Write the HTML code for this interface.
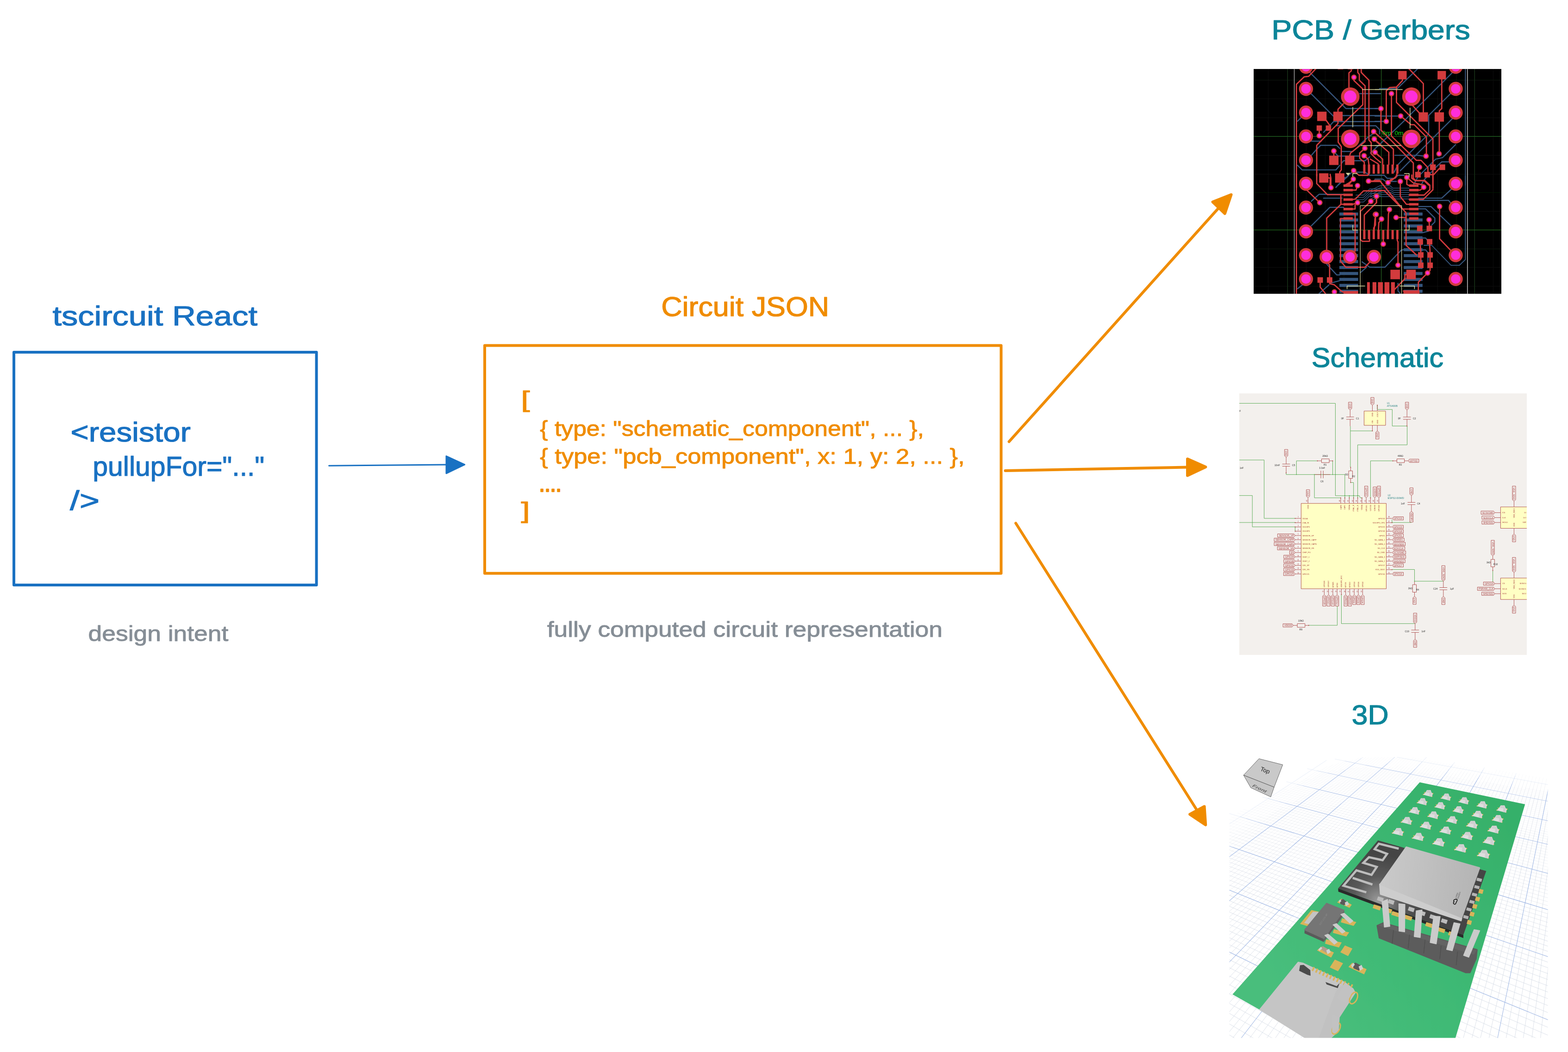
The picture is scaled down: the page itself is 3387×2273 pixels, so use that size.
<!DOCTYPE html>
<html lang="en">
<head>
<meta charset="utf-8">
<title>tscircuit React to Circuit JSON</title>
<style>
html,body{margin:0;padding:0;background:#fff;}
body{width:3387px;height:2273px;overflow:hidden;}
svg{display:block;}
svg text{font-family:"Liberation Sans",sans-serif;}
</style>
</head>
<body>
<svg width="3387" height="2273" viewBox="0 0 3387 2273">
<rect x="0" y="0" width="3387" height="2273" fill="#ffffff"/>
<rect x="30" y="761" width="653.6" height="503" fill="none" stroke="#1971c2" stroke-width="6" stroke-linejoin="round"/>
<rect x="1047" y="746.5" width="1115.5" height="492.20000000000005" fill="none" stroke="#f08c00" stroke-width="6" stroke-linejoin="round"/>
<path d="M710.6 1006.3 L964.0 1004.1" stroke="#1971c2" stroke-width="3" stroke-linecap="round" fill="none"/>
<path d="M1003.6 1003.9 L964 985.5 L964 1022.8 Z" fill="#1971c2" stroke="#1971c2" stroke-width="3" stroke-linejoin="round"/>
<path d="M2179.6 954.3 L2632.7 448.9" stroke="#f08c00" stroke-width="6" stroke-linecap="round" fill="none"/>
<path d="M2659.5 420.5 L2619.5 436.3 L2645.8 461.5 Z" fill="#f08c00" stroke="#f08c00" stroke-width="6" stroke-linejoin="round"/>
<path d="M2171.5 1016.9 L2565.0 1009.5" stroke="#f08c00" stroke-width="6" stroke-linecap="round" fill="none"/>
<path d="M2604.3 1009.0 L2565 991.5 L2565 1027.5 Z" fill="#f08c00" stroke="#f08c00" stroke-width="6" stroke-linejoin="round"/>
<path d="M2194.2 1130.5 L2585.8 1751.0" stroke="#f08c00" stroke-width="6" stroke-linecap="round" fill="none"/>
<path d="M2604.2 1782.3 L2601.5 1742.5 L2570.2 1759.5 Z" fill="#f08c00" stroke="#f08c00" stroke-width="6" stroke-linejoin="round"/>
<g id="labels">
<text x="113.4" y="703" font-size="60" fill="#1971c2" stroke="#1971c2" stroke-width="1.2" stroke-linejoin="round" text-anchor="start" textLength="442.7" lengthAdjust="spacingAndGlyphs" xml:space="preserve">tscircuit React</text>
<text x="152.5" y="954.3" font-size="60" fill="#1971c2" stroke="#1971c2" stroke-width="1.2" stroke-linejoin="round" text-anchor="start" textLength="259.5" lengthAdjust="spacingAndGlyphs" xml:space="preserve">&lt;resistor</text>
<text x="200.3" y="1028" font-size="60" fill="#1971c2" stroke="#1971c2" stroke-width="1.2" stroke-linejoin="round" text-anchor="start" textLength="371" lengthAdjust="spacingAndGlyphs" xml:space="preserve">pullupFor="..."</text>
<text x="151" y="1101.5" font-size="60" fill="#1971c2" stroke="#1971c2" stroke-width="1.2" stroke-linejoin="round" text-anchor="start" textLength="64" lengthAdjust="spacingAndGlyphs" xml:space="preserve">/&gt;</text>
<text x="190.6" y="1385" font-size="46" fill="#868e96" stroke="#868e96" stroke-width="0.9" stroke-linejoin="round" text-anchor="start" textLength="302.7" lengthAdjust="spacingAndGlyphs" xml:space="preserve">design intent</text>
<text x="1428.2" y="683" font-size="60" fill="#f08c00" stroke="#f08c00" stroke-width="1.2" stroke-linejoin="round" text-anchor="start" textLength="363" lengthAdjust="spacingAndGlyphs" xml:space="preserve">Circuit JSON</text>
<text x="1125.5" y="880" font-size="50" fill="#f08c00" stroke="#f08c00" stroke-width="1.2" stroke-linejoin="round" text-anchor="start" textLength="19" lengthAdjust="spacingAndGlyphs" xml:space="preserve">[</text>
<text x="1166.3" y="942" font-size="46" fill="#f08c00" stroke="#f08c00" stroke-width="0.9" stroke-linejoin="round" text-anchor="start" textLength="829.7" lengthAdjust="spacingAndGlyphs" xml:space="preserve">{ type: "schematic_component", ... },</text>
<text x="1166.3" y="1002" font-size="46" fill="#f08c00" stroke="#f08c00" stroke-width="0.9" stroke-linejoin="round" text-anchor="start" textLength="917.4" lengthAdjust="spacingAndGlyphs" xml:space="preserve">{ type: "pcb_component", x: 1, y: 2, ... },</text>
<text x="1164.8" y="1062" font-size="46" fill="#f08c00" stroke="#f08c00" stroke-width="2.6" stroke-linejoin="round" text-anchor="start" textLength="47.8" lengthAdjust="spacingAndGlyphs" xml:space="preserve">....</text>
<text x="1125.5" y="1120" font-size="50" fill="#f08c00" stroke="#f08c00" stroke-width="1.2" stroke-linejoin="round" text-anchor="start" textLength="19" lengthAdjust="spacingAndGlyphs" xml:space="preserve">]</text>
<text x="1181.7" y="1375.8" font-size="46" fill="#868e96" stroke="#868e96" stroke-width="0.9" stroke-linejoin="round" text-anchor="start" textLength="854.3" lengthAdjust="spacingAndGlyphs" xml:space="preserve">fully computed circuit representation</text>
<text x="2746.6" y="84.6" font-size="60" fill="#0c8599" stroke="#0c8599" stroke-width="1.2" stroke-linejoin="round" text-anchor="start" textLength="429.2" lengthAdjust="spacingAndGlyphs" xml:space="preserve">PCB / Gerbers</text>
<text x="2833" y="793.3" font-size="60" fill="#0c8599" stroke="#0c8599" stroke-width="1.2" stroke-linejoin="round" text-anchor="start" textLength="285" lengthAdjust="spacingAndGlyphs" xml:space="preserve">Schematic</text>
<text x="2919.7" y="1565" font-size="60" fill="#0c8599" stroke="#0c8599" stroke-width="1.2" stroke-linejoin="round" text-anchor="start" textLength="80" lengthAdjust="spacingAndGlyphs" xml:space="preserve">3D</text>
</g>
<g id="pcb">
<defs><clipPath id="pcbclip"><rect x="2708" y="149.3" width="535" height="485.2"/></clipPath></defs>
<rect x="2708" y="149.3" width="535" height="485.2" fill="#000"/>
<defs><filter id="pcbblur" x="-2%" y="-2%" width="104%" height="104%"><feGaussianBlur stdDeviation="0.6"/></filter></defs>
<g clip-path="url(#pcbclip)"><g filter="url(#pcbblur)"><rect x="2690" y="130" width="570" height="520" fill="#000"/><g transform="translate(2700,140) scale(0.16578)">
<g><line x1="240" y1="0" x2="240" y2="3000" stroke="#0c100b" stroke-width="7"/>
<line x1="735" y1="0" x2="735" y2="3000" stroke="#0c100b" stroke-width="7"/>
<line x1="980" y1="0" x2="980" y2="3000" stroke="#0c100b" stroke-width="7"/>
<line x1="1225" y1="0" x2="1225" y2="3000" stroke="#0c100b" stroke-width="7"/>
<line x1="1470" y1="0" x2="1470" y2="3000" stroke="#0c100b" stroke-width="7"/>
<line x1="1955" y1="0" x2="1955" y2="3000" stroke="#0c100b" stroke-width="7"/>
<line x1="2200" y1="0" x2="2200" y2="3000" stroke="#0c100b" stroke-width="7"/>
<line x1="2445" y1="0" x2="2445" y2="3000" stroke="#0c100b" stroke-width="7"/>
<line x1="2690" y1="0" x2="2690" y2="3000" stroke="#0c100b" stroke-width="7"/>
<line x1="3170" y1="0" x2="3170" y2="3000" stroke="#0c100b" stroke-width="7"/>
<line x1="3420" y1="0" x2="3420" y2="3000" stroke="#0c100b" stroke-width="7"/>
<line x1="0" y1="200" x2="3300" y2="200" stroke="#0c100b" stroke-width="7"/>
<line x1="0" y1="445" x2="3300" y2="445" stroke="#0c100b" stroke-width="7"/>
<line x1="0" y1="690" x2="3300" y2="690" stroke="#0c100b" stroke-width="7"/>
<line x1="0" y1="1180" x2="3300" y2="1180" stroke="#0c100b" stroke-width="7"/>
<line x1="0" y1="1425" x2="3300" y2="1425" stroke="#0c100b" stroke-width="7"/>
<line x1="0" y1="1665" x2="3300" y2="1665" stroke="#0c100b" stroke-width="7"/>
<line x1="0" y1="1910" x2="3300" y2="1910" stroke="#0c100b" stroke-width="7"/>
<line x1="0" y1="2400" x2="3300" y2="2400" stroke="#0c100b" stroke-width="7"/>
<line x1="0" y1="2640" x2="3300" y2="2640" stroke="#0c100b" stroke-width="7"/>
<line x1="0" y1="2885" x2="3300" y2="2885" stroke="#0c100b" stroke-width="7"/>
<line x1="490" y1="0" x2="490" y2="3000" stroke="#1f4a1c" stroke-width="6"/>
<line x1="2927" y1="0" x2="2927" y2="3000" stroke="#1f4a1c" stroke-width="6"/>
<line x1="1711" y1="0" x2="1711" y2="3000" stroke="#236b20" stroke-width="7"/>
<line x1="0" y1="933" x2="3300" y2="933" stroke="#236b20" stroke-width="7"/>
<line x1="0" y1="2153" x2="3300" y2="2153" stroke="#236b20" stroke-width="7"/>
<line x1="577" y1="0" x2="577" y2="3000" stroke="#c8c8c8" stroke-width="7"/>
<line x1="2834" y1="0" x2="2834" y2="3000" stroke="#c8c8c8" stroke-width="9"/></g>
<g><rect x="1165" y="1925" width="245" height="40" fill="#35547c"/>
<rect x="2004" y="1925" width="245" height="40" fill="#35547c"/>
<rect x="1165" y="2002" width="245" height="40" fill="#35547c"/>
<rect x="2004" y="2002" width="245" height="40" fill="#35547c"/>
<rect x="1165" y="2080" width="245" height="40" fill="#35547c"/>
<rect x="2004" y="2080" width="245" height="40" fill="#35547c"/>
<rect x="1165" y="2157" width="245" height="40" fill="#35547c"/>
<rect x="2004" y="2157" width="245" height="40" fill="#35547c"/>
<rect x="1165" y="2235" width="245" height="40" fill="#35547c"/>
<rect x="2004" y="2235" width="245" height="40" fill="#35547c"/>
<rect x="1165" y="2312" width="245" height="40" fill="#35547c"/>
<rect x="2004" y="2312" width="245" height="40" fill="#35547c"/>
<rect x="1165" y="2390" width="245" height="40" fill="#35547c"/>
<rect x="2004" y="2390" width="245" height="40" fill="#35547c"/>
<rect x="1165" y="2467" width="245" height="40" fill="#35547c"/>
<rect x="2004" y="2467" width="245" height="40" fill="#35547c"/>
<rect x="1165" y="2545" width="245" height="40" fill="#35547c"/>
<rect x="2004" y="2545" width="245" height="40" fill="#35547c"/>
<rect x="1165" y="2622" width="245" height="40" fill="#35547c"/>
<rect x="2004" y="2622" width="245" height="40" fill="#35547c"/>
<rect x="1165" y="2700" width="245" height="40" fill="#35547c"/>
<rect x="2004" y="2700" width="245" height="40" fill="#35547c"/>
<rect x="1165" y="2777" width="245" height="40" fill="#35547c"/>
<rect x="2004" y="2777" width="245" height="40" fill="#35547c"/>
<rect x="1165" y="2855" width="245" height="40" fill="#35547c"/>
<rect x="2004" y="2855" width="245" height="40" fill="#35547c"/>
<rect x="1165" y="2932" width="245" height="40" fill="#35547c"/>
<rect x="2004" y="2932" width="245" height="40" fill="#35547c"/></g>
<g fill="none" stroke="#35547c" stroke-linejoin="round" stroke-linecap="round"><polyline points="2807,0 2807,1568" stroke-width="12"/>
<polyline points="2807,1448 2807,2538 2729,2613 2619,2613 2369,2353 2269,2353" stroke-width="12"/>
<polyline points="740,60 1250,570 1689,570" stroke-width="15"/>
<polyline points="790,370 1090,672" stroke-width="15"/>
<polyline points="1430,375 1700,375" stroke-width="15"/>
<polyline points="1200,662 1700,662" stroke-width="15"/>
<polyline points="620,735 730,623" stroke-width="15"/>
<polyline points="960,880 1090,740 1700,740" stroke-width="15"/>
<polyline points="1130,795 1640,795 1689,845 1689,900" stroke-width="15"/>
<polyline points="790,995 930,995" stroke-width="15"/>
<polyline points="800,1180 870,1100 920,1050 1130,1050 1170,1090" stroke-width="15"/>
<polyline points="620,1310 680,1370 1120,1370 1170,1310" stroke-width="15"/>
<polyline points="1190,1130 1340,1130 1530,950 1600,900" stroke-width="15"/>
<polyline points="1110,1150 1150,1190 1430,1190" stroke-width="15"/>
<polyline points="1190,1290 1220,1250 1500,1250 1560,1200" stroke-width="15"/>
<polyline points="1240,1480 1330,1400 1500,1400 1560,1440 1689,1440" stroke-width="15"/>
<polyline points="1150,1568 1280,1450" stroke-width="15"/>
<polyline points="2179,58 1919,310 1689,310" stroke-width="15"/>
<polyline points="2639,100 2329,410 2009,730 1729,1000 1569,1150" stroke-width="15"/>
<polyline points="2619,370 2329,660 2329,900 2149,1080 1929,1300 1879,1400" stroke-width="15"/>
<polyline points="2639,700 2479,860 2189,1150 1959,1380" stroke-width="15"/>
<polyline points="2679,1040 2509,1210 2419,1230 2189,1460 2129,1568" stroke-width="15"/>
<polyline points="2589,1265 2499,1265 2429,1330 2269,1500 2229,1568" stroke-width="15"/>
<polyline points="1629,572 1707,572" stroke-width="15"/>
<polyline points="1629,668 1964,668" stroke-width="15"/>
<polyline points="1629,738 1776,738" stroke-width="15"/>
<polyline points="1889,1180 2189,1180 2269,1190" stroke-width="15"/>
<polyline points="1629,1440 1749,1440 1789,1480 1889,1480 1929,1440 2009,1440" stroke-width="15"/>
<polyline points="1629,1490 1729,1490 1769,1520 1909,1520" stroke-width="15"/>
<polyline points="800,1778 900,1688 1220,1688" stroke-width="15"/>
<polyline points="960,1738 1200,1738" stroke-width="15"/>
<polyline points="800,2098 1040,1858 1220,1858" stroke-width="15"/>
<polyline points="620,2918 760,2808 800,2788" stroke-width="15"/>
<polyline points="1000,2598 1130,2738 1170,2738" stroke-width="15"/>
<polyline points="1040,2848 1170,2813" stroke-width="15"/>
<polyline points="900,2983 1030,2868" stroke-width="15"/>
<polyline points="1460,2568 1560,2638 1689,2638" stroke-width="15"/>
<polyline points="1440,2708 1520,2638" stroke-width="15"/>
<polyline points="1120,1598 1200,1508 1240,1468" stroke-width="15"/>
<polyline points="2629,1618 2499,1738 2199,1738" stroke-width="15"/>
<polyline points="2629,1818 2589,1768 2199,1768" stroke-width="15"/>
<polyline points="2629,2108 2359,1848 2199,1848" stroke-width="15"/>
<polyline points="2199,1878 2289,1878 2409,1998 2409,2048 2369,2088" stroke-width="15"/>
<polyline points="2249,2188 2289,2178 2329,2168" stroke-width="15"/>
<polyline points="2249,2258 2289,2258 2329,2308" stroke-width="15"/>
<polyline points="2249,2413 2289,2413 2319,2448 2319,2648" stroke-width="15"/>
<polyline points="1629,2638 1759,2638 1969,2418 2049,2398" stroke-width="15"/>
<polyline points="1929,2848 1929,2948 1959,2983" stroke-width="15"/>
<polyline points="1569,1638 1689,1578 1829,1578 1859,1608 2074,1608" stroke-width="9"/>
<polyline points="1569,1666 1689,1606 1829,1606 1867,1636 2074,1636" stroke-width="9"/>
<polyline points="1569,1694 1689,1634 1829,1634 1875,1664 2074,1664" stroke-width="9"/>
<polyline points="1569,1722 1689,1662 1829,1662 1884,1692 2074,1692" stroke-width="9"/>
<polyline points="1569,1750 1689,1690 1829,1690 1892,1720 2074,1720" stroke-width="9"/>
<polyline points="1569,1778 1689,1718 1829,1718 1901,1748 2074,1748" stroke-width="9"/>
<polyline points="1380,1698 1480,1698 1560,1618 1700,1618" stroke-width="9"/>
<polyline points="1380,1728 1480,1728 1560,1648 1700,1648" stroke-width="9"/>
<polyline points="1380,1758 1480,1758 1560,1678 1700,1678" stroke-width="9"/>
<polyline points="1380,1788 1480,1788 1560,1708 1700,1708" stroke-width="9"/></g>
<g fill="none" stroke="#d23a3c" stroke-linejoin="round" stroke-linecap="round"><polyline points="860,50 765,150 705,158 605,255 605,1600" stroke-width="17"/>
<polyline points="605,1428 605,2988" stroke-width="17"/>
<polyline points="1320,50 1320,80 1290,105 1290,300" stroke-width="17"/>
<polyline points="1405,50 1405,100 1425,125 1425,200 1500,275 1500,1000 1310,1150 1300,1185" stroke-width="17"/>
<polyline points="1450,50 1450,100 1550,200 1550,980 1580,1015 1580,1160 1640,1220 1700,1270" stroke-width="17"/>
<polyline points="1355,163 1355,205 1470,315 1470,520 1150,830 1150,1010 1190,1065 1190,1370 1170,1395 1170,1420" stroke-width="17"/>
<polyline points="1147,612 1147,580 1215,510" stroke-width="17"/>
<polyline points="990,720 1040,790" stroke-width="17"/>
<polyline points="903,860 903,925" stroke-width="17"/>
<polyline points="1147,735 1147,765 870,1050 870,1450" stroke-width="17"/>
<polyline points="1093,1123 1093,1190" stroke-width="17"/>
<polyline points="1025,1475 1045,1475 1045,1600" stroke-width="17"/>
<polyline points="1612,870 1700,950" stroke-width="17"/>
<polyline points="1620,968 1700,1040" stroke-width="17"/>
<polyline points="1497,1088 1430,1150 1430,1220 1490,1270 1490,1300" stroke-width="17"/>
<polyline points="1487,1185 1540,1230 1550,1300" stroke-width="17"/>
<polyline points="1630,1140 1680,1190" stroke-width="17"/>
<polyline points="1352,1380 1420,1440 1540,1440 1550,1420" stroke-width="17"/>
<polyline points="1347,1490 1290,1540 1240,1568" stroke-width="17"/>
<polyline points="1545,1515 1700,1515" stroke-width="17"/>
<polyline points="2069,50 2259,245 2259,620" stroke-width="17"/>
<polyline points="1987,190 1987,205 1909,290 1819,297 1776,340 1776,738" stroke-width="17"/>
<polyline points="1844,375 1844,930 1959,1040 2169,1245 2229,1245 2319,1340 2319,1400" stroke-width="17"/>
<polyline points="1909,290 1909,490 2384,965 2384,1300" stroke-width="17"/>
<polyline points="1964,668 2099,780 2139,780 2299,940 2299,1160" stroke-width="17"/>
<polyline points="1707,572 1707,850 2129,1280 2129,1480 2159,1510 2269,1510 2329,1568" stroke-width="17"/>
<polyline points="2499,190 2499,570 2467,600 2467,620" stroke-width="17"/>
<polyline points="2467,740 2467,1130" stroke-width="17"/>
<polyline points="2119,530 2209,630" stroke-width="17"/>
<polyline points="1619,875 1869,1100 1869,1300" stroke-width="17"/>
<polyline points="1619,975 1809,1140 1809,1300" stroke-width="17"/>
<polyline points="1639,1145 1729,1230 1729,1300" stroke-width="17"/>
<polyline points="1569,1230 1669,1290 1674,1300" stroke-width="17"/>
<polyline points="2209,1335 2191,1400" stroke-width="17"/>
<polyline points="2344,1432 2394,1432 2469,1350" stroke-width="17"/>
<polyline points="2384,1370 2384,1600" stroke-width="17"/>
<polyline points="1921,1400 1899,1470 1829,1500 1799,1535" stroke-width="17"/>
<polyline points="2044,1467 2129,1540 2269,1568" stroke-width="17"/>
<polyline points="870,1428 870,1548 1010,1693 1220,1693" stroke-width="17"/>
<polyline points="1045,1428 1055,1478 1055,1601" stroke-width="17"/>
<polyline points="745,1638 890,1778" stroke-width="17"/>
<polyline points="1220,1818 1185,1818 1000,1998 1000,2428" stroke-width="17"/>
<polyline points="1185,1698 1185,1818" stroke-width="17"/>
<polyline points="1220,2003 1180,2003 1180,2558 1250,2638 1500,2638 1560,2573" stroke-width="17"/>
<polyline points="1340,1941 1370,1941 1370,2428" stroke-width="17"/>
<polyline points="1340,1756 1375,1748 1480,1643 1700,1643" stroke-width="17"/>
<polyline points="1340,1818 1402,1798" stroke-width="17"/>
<polyline points="1340,1880 1370,1880 1370,1828" stroke-width="17"/>
<polyline points="1575,1780 1440,1908 1440,2278 1462,2300 1558,2300 1558,2178" stroke-width="17"/>
<polyline points="1648,1711 1648,1798 1490,1958 1490,2153" stroke-width="17"/>
<polyline points="1635,1950 1635,2088 1612,2128 1612,2168" stroke-width="17"/>
<polyline points="1010,2578 1038,2608 1038,2768" stroke-width="17"/>
<polyline points="1038,2838 1040,2853 1100,2868 1190,2948 1225,2968" stroke-width="17"/>
<polyline points="915,2838 915,2898 985,2983" stroke-width="17"/>
<polyline points="1348,1488 1290,1558 1225,1575" stroke-width="17"/>
<polyline points="1402,1575 1382,1633 1340,1633" stroke-width="17"/>
<polyline points="1545,1520 1700,1520" stroke-width="17"/>
<polyline points="2471,1846 2471,2268 2629,2433" stroke-width="17"/>
<polyline points="1619,1508 1689,1508 1979,1868 2034,1928 2034,2353 2169,2478" stroke-width="17"/>
<polyline points="1929,2611 1929,2308 1919,2288 1919,2273" stroke-width="17"/>
<polyline points="1737,2336 1737,2278" stroke-width="17"/>
<polyline points="1904,1990 2034,1990" stroke-width="17"/>
<polyline points="2334,2020 2337,2098" stroke-width="17"/>
<polyline points="2219,2343 2226,2443" stroke-width="17"/>
<polyline points="2341,2343 2347,2443" stroke-width="17"/>
<polyline points="2226,2513 2226,2578" stroke-width="17"/>
<polyline points="2347,2513 2347,2578" stroke-width="17"/>
<polyline points="2347,2648 2347,2680 2314,2713 2194,2833 2194,2948 1999,2948" stroke-width="17"/>
<polyline points="2037,2733 2019,2738 2019,2788 1879,2933" stroke-width="17"/>
<polyline points="2109,1438 2109,1478 2149,1508 2279,1508 2344,1568 2344,1628 2269,1698 2074,1698" stroke-width="17"/>
<polyline points="2384,1438 2384,1628 2259,1753 2074,1753" stroke-width="17"/>
<polyline points="1959,1520 1959,1718 2039,1818 2074,1818" stroke-width="17"/>
<polyline points="1619,1638 1749,1638 1989,1880 2074,1880" stroke-width="17"/>
<polyline points="2044,1468 2044,1558 2074,1575" stroke-width="17"/>
<polyline points="2264,1596 2219,1633 2194,1633" stroke-width="17"/>
<polyline points="1799,1540 1869,1488 1919,1438" stroke-width="17"/>
<polyline points="1649,1713 1649,1798" stroke-width="17"/>
<polyline points="1817,1886 1804,1948 1799,2153" stroke-width="17"/>
<polyline points="1714,2010 1679,2058 1674,2153" stroke-width="17"/>
<polyline points="1644,1950 1629,2008 1619,2148" stroke-width="17"/></g>
<g><circle cx="730" cy="25" r="92" fill="#d23a3c"/><circle cx="730" cy="25" r="62" fill="#ff2edb"/>
<circle cx="2681" cy="25" r="92" fill="#d23a3c"/><circle cx="2681" cy="25" r="62" fill="#ff2edb"/>
<circle cx="730" cy="313" r="92" fill="#d23a3c"/><circle cx="730" cy="313" r="62" fill="#ff2edb"/>
<circle cx="2681" cy="313" r="92" fill="#d23a3c"/><circle cx="2681" cy="313" r="62" fill="#ff2edb"/>
<circle cx="730" cy="623" r="92" fill="#d23a3c"/><circle cx="730" cy="623" r="62" fill="#ff2edb"/>
<circle cx="2681" cy="623" r="92" fill="#d23a3c"/><circle cx="2681" cy="623" r="62" fill="#ff2edb"/>
<circle cx="730" cy="933" r="92" fill="#d23a3c"/><circle cx="730" cy="933" r="62" fill="#ff2edb"/>
<circle cx="2681" cy="933" r="92" fill="#d23a3c"/><circle cx="2681" cy="933" r="62" fill="#ff2edb"/>
<circle cx="730" cy="1243" r="92" fill="#d23a3c"/><circle cx="730" cy="1243" r="62" fill="#ff2edb"/>
<circle cx="2681" cy="1243" r="92" fill="#d23a3c"/><circle cx="2681" cy="1243" r="62" fill="#ff2edb"/>
<circle cx="730" cy="1550" r="92" fill="#d23a3c"/><circle cx="730" cy="1550" r="62" fill="#ff2edb"/>
<circle cx="2681" cy="1550" r="92" fill="#d23a3c"/><circle cx="2681" cy="1550" r="62" fill="#ff2edb"/>
<circle cx="730" cy="1861" r="92" fill="#d23a3c"/><circle cx="730" cy="1861" r="62" fill="#ff2edb"/>
<circle cx="2681" cy="1861" r="92" fill="#d23a3c"/><circle cx="2681" cy="1861" r="62" fill="#ff2edb"/>
<circle cx="730" cy="2171" r="92" fill="#d23a3c"/><circle cx="730" cy="2171" r="62" fill="#ff2edb"/>
<circle cx="2681" cy="2171" r="92" fill="#d23a3c"/><circle cx="2681" cy="2171" r="62" fill="#ff2edb"/>
<circle cx="730" cy="2481" r="92" fill="#d23a3c"/><circle cx="730" cy="2481" r="62" fill="#ff2edb"/>
<circle cx="2681" cy="2481" r="92" fill="#d23a3c"/><circle cx="2681" cy="2481" r="62" fill="#ff2edb"/>
<circle cx="730" cy="2791" r="92" fill="#d23a3c"/><circle cx="730" cy="2791" r="62" fill="#ff2edb"/>
<circle cx="2681" cy="2791" r="92" fill="#d23a3c"/><circle cx="2681" cy="2791" r="62" fill="#ff2edb"/>
<circle cx="1307" cy="415" r="121" fill="#d23a3c"/><circle cx="1307" cy="415" r="80" fill="#ff2edb"/>
<circle cx="1307" cy="965" r="121" fill="#d23a3c"/><circle cx="1307" cy="965" r="80" fill="#ff2edb"/>
<circle cx="2104" cy="415" r="121" fill="#d23a3c"/><circle cx="2104" cy="415" r="80" fill="#ff2edb"/>
<circle cx="2104" cy="965" r="121" fill="#d23a3c"/><circle cx="2104" cy="965" r="80" fill="#ff2edb"/>
<circle cx="998" cy="2503" r="92" fill="#d23a3c"/><circle cx="998" cy="2503" r="62" fill="#ff2edb"/>
<circle cx="1305" cy="2503" r="92" fill="#d23a3c"/><circle cx="1305" cy="2503" r="62" fill="#ff2edb"/>
<circle cx="1615" cy="2503" r="92" fill="#d23a3c"/><circle cx="1615" cy="2503" r="62" fill="#ff2edb"/>
<circle cx="1355" cy="163" r="36" fill="#d23a3c"/><circle cx="1355" cy="163" r="21" fill="#ff2edb"/>
<circle cx="903" cy="925" r="36" fill="#d23a3c"/><circle cx="903" cy="925" r="21" fill="#ff2edb"/>
<circle cx="1093" cy="1123" r="36" fill="#d23a3c"/><circle cx="1093" cy="1123" r="21" fill="#ff2edb"/>
<circle cx="1612" cy="870" r="36" fill="#d23a3c"/><circle cx="1612" cy="870" r="21" fill="#ff2edb"/>
<circle cx="1620" cy="968" r="36" fill="#d23a3c"/><circle cx="1620" cy="968" r="21" fill="#ff2edb"/>
<circle cx="1497" cy="1088" r="36" fill="#d23a3c"/><circle cx="1497" cy="1088" r="21" fill="#ff2edb"/>
<circle cx="1487" cy="1185" r="36" fill="#d23a3c"/><circle cx="1487" cy="1185" r="21" fill="#ff2edb"/>
<circle cx="1630" cy="1140" r="36" fill="#d23a3c"/><circle cx="1630" cy="1140" r="21" fill="#ff2edb"/>
<circle cx="1352" cy="1380" r="36" fill="#d23a3c"/><circle cx="1352" cy="1380" r="21" fill="#ff2edb"/>
<circle cx="1347" cy="1490" r="36" fill="#d23a3c"/><circle cx="1347" cy="1490" r="21" fill="#ff2edb"/>
<circle cx="1545" cy="1515" r="36" fill="#d23a3c"/><circle cx="1545" cy="1515" r="21" fill="#ff2edb"/>
<circle cx="1844" cy="375" r="36" fill="#d23a3c"/><circle cx="1844" cy="375" r="21" fill="#ff2edb"/>
<circle cx="1707" cy="572" r="36" fill="#d23a3c"/><circle cx="1707" cy="572" r="21" fill="#ff2edb"/>
<circle cx="1964" cy="668" r="36" fill="#d23a3c"/><circle cx="1964" cy="668" r="21" fill="#ff2edb"/>
<circle cx="1776" cy="738" r="36" fill="#d23a3c"/><circle cx="1776" cy="738" r="21" fill="#ff2edb"/>
<circle cx="2294" cy="1190" r="36" fill="#d23a3c"/><circle cx="2294" cy="1190" r="21" fill="#ff2edb"/>
<circle cx="2464" cy="1160" r="36" fill="#d23a3c"/><circle cx="2464" cy="1160" r="21" fill="#ff2edb"/>
<circle cx="2209" cy="1335" r="36" fill="#d23a3c"/><circle cx="2209" cy="1335" r="21" fill="#ff2edb"/>
<circle cx="2044" cy="1467" r="36" fill="#d23a3c"/><circle cx="2044" cy="1467" r="21" fill="#ff2edb"/>
<circle cx="1959" cy="1520" r="36" fill="#d23a3c"/><circle cx="1959" cy="1520" r="21" fill="#ff2edb"/>
<circle cx="1799" cy="1535" r="36" fill="#d23a3c"/><circle cx="1799" cy="1535" r="21" fill="#ff2edb"/>
<circle cx="1055" cy="1601" r="36" fill="#d23a3c"/><circle cx="1055" cy="1601" r="21" fill="#ff2edb"/>
<circle cx="910" cy="1796" r="36" fill="#d23a3c"/><circle cx="910" cy="1796" r="21" fill="#ff2edb"/>
<circle cx="1402" cy="1575" r="36" fill="#d23a3c"/><circle cx="1402" cy="1575" r="21" fill="#ff2edb"/>
<circle cx="1402" cy="1798" r="36" fill="#d23a3c"/><circle cx="1402" cy="1798" r="21" fill="#ff2edb"/>
<circle cx="1575" cy="1780" r="36" fill="#d23a3c"/><circle cx="1575" cy="1780" r="21" fill="#ff2edb"/>
<circle cx="1648" cy="1711" r="36" fill="#d23a3c"/><circle cx="1648" cy="1711" r="21" fill="#ff2edb"/>
<circle cx="1635" cy="1950" r="36" fill="#d23a3c"/><circle cx="1635" cy="1950" r="21" fill="#ff2edb"/>
<circle cx="1100" cy="2960" r="36" fill="#d23a3c"/><circle cx="1100" cy="2960" r="21" fill="#ff2edb"/>
<circle cx="2264" cy="1596" r="36" fill="#d23a3c"/><circle cx="2264" cy="1596" r="21" fill="#ff2edb"/>
<circle cx="1649" cy="1713" r="36" fill="#d23a3c"/><circle cx="1649" cy="1713" r="21" fill="#ff2edb"/>
<circle cx="1817" cy="1886" r="36" fill="#d23a3c"/><circle cx="1817" cy="1886" r="21" fill="#ff2edb"/>
<circle cx="1644" cy="1950" r="36" fill="#d23a3c"/><circle cx="1644" cy="1950" r="21" fill="#ff2edb"/>
<circle cx="1714" cy="2010" r="36" fill="#d23a3c"/><circle cx="1714" cy="2010" r="21" fill="#ff2edb"/>
<circle cx="1904" cy="1990" r="36" fill="#d23a3c"/><circle cx="1904" cy="1990" r="21" fill="#ff2edb"/>
<circle cx="2334" cy="2020" r="36" fill="#d23a3c"/><circle cx="2334" cy="2020" r="21" fill="#ff2edb"/>
<circle cx="2471" cy="1846" r="36" fill="#d23a3c"/><circle cx="2471" cy="1846" r="21" fill="#ff2edb"/>
<circle cx="1737" cy="2336" r="36" fill="#d23a3c"/><circle cx="1737" cy="2336" r="21" fill="#ff2edb"/>
<circle cx="1929" cy="2611" r="36" fill="#d23a3c"/><circle cx="1929" cy="2611" r="21" fill="#ff2edb"/>
<circle cx="2314" cy="2713" r="36" fill="#d23a3c"/><circle cx="2314" cy="2713" r="21" fill="#ff2edb"/>
<rect x="876" y="611" width="122" height="122" fill="#d23a3c"/>
<rect x="1086" y="611" width="122" height="122" fill="#d23a3c"/>
<rect x="1032" y="1184" width="122" height="122" fill="#d23a3c"/>
<rect x="1239" y="1184" width="122" height="122" fill="#d23a3c"/>
<rect x="901" y="1414" width="122" height="122" fill="#d23a3c"/>
<rect x="1109" y="1414" width="122" height="122" fill="#d23a3c"/>
<rect x="868" y="790" width="70" height="70" fill="#d23a3c"/>
<rect x="988" y="790" width="70" height="70" fill="#d23a3c"/>
<rect x="1145" y="20" width="70" height="40" fill="#d23a3c"/>
<rect x="1275" y="30" width="70" height="30" fill="#d23a3c"/>
<rect x="1932" y="80" width="110" height="110" fill="#d23a3c"/>
<rect x="2444" y="80" width="110" height="110" fill="#d23a3c"/>
<rect x="2198" y="619" width="122" height="122" fill="#d23a3c"/>
<rect x="2406" y="619" width="122" height="122" fill="#d23a3c"/>
<rect x="2347" y="1298" width="74" height="74" fill="#d23a3c"/>
<rect x="2470" y="1298" width="74" height="74" fill="#d23a3c"/>
<rect x="2152" y="1395" width="74" height="74" fill="#d23a3c"/>
<rect x="2272" y="1395" width="74" height="74" fill="#d23a3c"/>
<rect x="879" y="2769" width="72" height="72" fill="#d23a3c"/>
<rect x="1002" y="2769" width="72" height="72" fill="#d23a3c"/>
<rect x="2176" y="2097" width="72" height="72" fill="#d23a3c"/>
<rect x="2301" y="2097" width="72" height="72" fill="#d23a3c"/>
<rect x="2183" y="2270" width="72" height="72" fill="#d23a3c"/>
<rect x="2305" y="2270" width="72" height="72" fill="#d23a3c"/>
<rect x="2190" y="2442" width="72" height="72" fill="#d23a3c"/>
<rect x="2311" y="2442" width="72" height="72" fill="#d23a3c"/>
<rect x="2190" y="2577" width="72" height="72" fill="#d23a3c"/>
<rect x="2311" y="2577" width="72" height="72" fill="#d23a3c"/>
<rect x="1830" y="2671" width="124" height="124" fill="#d23a3c"/>
<rect x="2037" y="2671" width="124" height="124" fill="#d23a3c"/>
<rect x="1475" y="1300" width="30" height="120" fill="#d23a3c"/>
<rect x="1475" y="2153" width="30" height="120" fill="#d23a3c"/>
<rect x="1536" y="1300" width="30" height="120" fill="#d23a3c"/>
<rect x="1536" y="2153" width="30" height="120" fill="#d23a3c"/>
<rect x="1598" y="1300" width="30" height="120" fill="#d23a3c"/>
<rect x="1598" y="2153" width="30" height="120" fill="#d23a3c"/>
<rect x="1660" y="1300" width="30" height="120" fill="#d23a3c"/>
<rect x="1660" y="2153" width="30" height="120" fill="#d23a3c"/>
<rect x="1721" y="1300" width="30" height="120" fill="#d23a3c"/>
<rect x="1721" y="2153" width="30" height="120" fill="#d23a3c"/>
<rect x="1782" y="1300" width="30" height="120" fill="#d23a3c"/>
<rect x="1782" y="2153" width="30" height="120" fill="#d23a3c"/>
<rect x="1844" y="1300" width="30" height="120" fill="#d23a3c"/>
<rect x="1844" y="2153" width="30" height="120" fill="#d23a3c"/>
<rect x="1906" y="1300" width="30" height="120" fill="#d23a3c"/>
<rect x="1906" y="2153" width="30" height="120" fill="#d23a3c"/>
<rect x="1218" y="1559" width="122" height="32" fill="#d23a3c"/>
<rect x="2074" y="1559" width="122" height="32" fill="#d23a3c"/>
<rect x="1218" y="1617" width="122" height="32" fill="#d23a3c"/>
<rect x="2074" y="1617" width="122" height="32" fill="#d23a3c"/>
<rect x="1218" y="1679" width="122" height="32" fill="#d23a3c"/>
<rect x="2074" y="1679" width="122" height="32" fill="#d23a3c"/>
<rect x="1218" y="1740" width="122" height="32" fill="#d23a3c"/>
<rect x="2074" y="1740" width="122" height="32" fill="#d23a3c"/>
<rect x="1218" y="1802" width="122" height="32" fill="#d23a3c"/>
<rect x="2074" y="1802" width="122" height="32" fill="#d23a3c"/>
<rect x="1218" y="1864" width="122" height="32" fill="#d23a3c"/>
<rect x="2074" y="1864" width="122" height="32" fill="#d23a3c"/>
<rect x="1218" y="1925" width="122" height="32" fill="#d23a3c"/>
<rect x="2074" y="1925" width="122" height="32" fill="#d23a3c"/>
<rect x="1218" y="1987" width="122" height="32" fill="#d23a3c"/>
<rect x="2074" y="1987" width="122" height="32" fill="#d23a3c"/>
<rect x="1526" y="2833" width="36" height="215" fill="#d23a3c"/>
<rect x="1597" y="2833" width="50" height="215" fill="#d23a3c"/>
<rect x="1668" y="2833" width="64" height="215" fill="#d23a3c"/>
<rect x="1753" y="2833" width="64" height="215" fill="#d23a3c"/>
<rect x="1838" y="2833" width="50" height="215" fill="#d23a3c"/>
<rect x="1220" y="2948" width="190" height="100" fill="#d23a3c"/>
<rect x="1999" y="2948" width="210" height="100" fill="#d23a3c"/></g>
<g fill="none" stroke="#d9d9a0"><polyline points="1460,323 1689,323" stroke-width="9"/>
<polyline points="1629,323 1989,323" stroke-width="9"/>
<polyline points="1340,550 1340,815" stroke-width="9"/>
<polyline points="2086,560 2086,830" stroke-width="9"/>
<polyline points="1445,1053 1700,1053" stroke-width="9"/>
<polyline points="1629,1053 1969,1053" stroke-width="9"/>
<polyline points="1340,1460 1340,1418 1400,1418" stroke-width="9"/>
<polyline points="2009,1418 2074,1418 2074,1460" stroke-width="9"/>
<polygon points="1248,1408 1308,1408 1278,1445" fill="#d9d9a0" stroke="none"/>
<polyline points="1437,3048 1437,1836 1700,1836" stroke-width="7"/>
<polyline points="1629,1836 1976,1836 1976,3048" stroke-width="7"/>
<polyline points="1340,2088 1340,2153 1405,2153" stroke-width="9"/>
<polyline points="2074,2088 2074,2153 2009,2153" stroke-width="9"/>
<polyline points="1265,2923 1265,2883 1500,2883" stroke-width="9"/>
<polyline points="1949,2883 2144,2883 2144,2923" stroke-width="9"/></g>
<g><text x="1724" y="915" font-size="82" fill="#12e012" textLength="275" lengthAdjust="spacingAndGlyphs" xml:space="preserve">0m  0m</text></g>
</g></g></g>
</g>
<g id="sch">
<defs><clipPath id="schclip"><rect x="2677" y="850" width="621" height="565"/></clipPath></defs>
<rect x="2677" y="850" width="621" height="565" fill="#f3f0ed"/>
<defs><filter id="schblur" x="-2%" y="-2%" width="104%" height="104%"><feGaussianBlur stdDeviation="0.45"/></filter></defs>
<g clip-path="url(#schclip)"><g filter="url(#schblur)"><rect x="2660" y="835" width="650" height="600" fill="#f3f0ed"/><g transform="translate(2670,845) scale(0.18497)">
<g stroke="#a53a3a" stroke-width="5"></g>
<g fill="none" stroke="#55aa50" stroke-width="5" stroke-linejoin="round"><polyline points="0,143 1160,143 1160,1222 1440,1222 1450,1247 1470,1247"/>
<polyline points="0,805 328,805 328,1487 690,1487"/>
<polyline points="0,1220 190,1220 190,1586 690,1586 690,1636"/>
<polyline points="0,1535 690,1535"/>
<polyline points="585,955 585,975 1270,975 1270,1247"/>
<polyline points="705,975 705,815 950,815"/>
<polyline points="1128,815 1128,975"/>
<polyline points="915,975 915,1247 1222,1247"/>
<polyline points="1322,1222 1322,1247"/>
<polyline points="1340,1068 1372,1068 1372,1247"/>
<polyline points="1676,628 1420,628 1420,1247"/>
<polyline points="1676,815 1570,815 1570,1247"/>
<polyline points="1335,410 1335,890"/>
<polyline points="1335,465 1592,465"/>
<polyline points="1650,165 1650,215 1824,215 1824,408 1998,408 1998,628 1676,628"/>
<polyline points="1676,815 1831,815"/>
<polyline points="1821,1500 1821,1535 2048,1535"/>
<polyline points="1182,2511 1182,2736 848,2736"/>
<polyline points="1230,2376 1230,2716 2091,2716"/>
<polyline points="1821,2084 2084,2084 2084,2221 2421,2221"/>
<polyline points="2998,2096 2998,2231"/></g>
<g fill="none" stroke="#a53a3a" stroke-width="4.5"><polyline points="585,772 585,852"/>
<polyline points="585,878 585,955"/>
<polyline points="540,852 630,852"/>
<polyline points="540,878 630,878"/>
<polyline points="950,815 998,815"/>
<polyline points="1088,815 1128,815"/>
<polyline points="915,975 990,975"/>
<polyline points="1018,975 1100,975"/>
<polyline points="990,930 990,1018"/>
<polyline points="1018,930 1018,1018"/>
<polyline points="1332,220 1332,302"/>
<polyline points="1332,330 1332,410"/>
<polyline points="1287,302 1377,302"/>
<polyline points="1287,330 1377,330"/>
<polyline points="1338,890 1338,932"/>
<polyline points="1338,1020 1338,1068"/>
<polyline points="1592,165 1592,233"/>
<polyline points="1650,165 1650,233"/>
<polyline points="1592,400 1592,465"/>
<polyline points="1650,400 1650,465"/>
<polyline points="1996,220 1996,303"/>
<polyline points="1996,330 1996,408"/>
<polyline points="1951,303 2041,303"/>
<polyline points="1951,330 2041,330"/>
<polyline points="1831,815 1878,815"/>
<polyline points="1966,815 2011,815"/>
<polyline points="2048,1220 2048,1300"/>
<polyline points="2048,1326 2048,1405"/>
<polyline points="2003,1300 2093,1300"/>
<polyline points="2003,1326 2093,1326"/>
<polyline points="840,1247 840,1312"/>
<polyline points="1222,1247 1222,1312"/>
<polyline points="1270,1247 1270,1312"/>
<polyline points="1322,1247 1322,1312"/>
<polyline points="1372,1247 1372,1312"/>
<polyline points="1420,1247 1420,1312"/>
<polyline points="1470,1247 1470,1312"/>
<polyline points="1520,1247 1520,1312"/>
<polyline points="1570,1247 1570,1312"/>
<polyline points="1620,1247 1620,1312"/>
<polyline points="1668,1247 1668,1312"/>
<polyline points="690,1487 760,1487"/>
<polyline points="690,1537 760,1537"/>
<polyline points="690,1587 760,1587"/>
<polyline points="690,1637 760,1637"/>
<polyline points="690,1687 760,1687"/>
<polyline points="690,1736 760,1736"/>
<polyline points="690,1786 760,1786"/>
<polyline points="690,1836 760,1836"/>
<polyline points="690,1886 760,1886"/>
<polyline points="690,1936 760,1936"/>
<polyline points="690,1986 760,1986"/>
<polyline points="690,2036 760,2036"/>
<polyline points="690,2086 760,2086"/>
<polyline points="690,2136 760,2136"/>
<polyline points="1754,1487 1821,1487"/>
<polyline points="1754,1537 1821,1537"/>
<polyline points="1754,1587 1821,1587"/>
<polyline points="1754,1637 1821,1637"/>
<polyline points="1754,1687 1821,1687"/>
<polyline points="1754,1736 1821,1736"/>
<polyline points="1754,1786 1821,1786"/>
<polyline points="1754,1836 1821,1836"/>
<polyline points="1754,1886 1821,1886"/>
<polyline points="1754,1936 1821,1936"/>
<polyline points="1754,1986 1821,1986"/>
<polyline points="1754,2036 1821,2036"/>
<polyline points="1754,2086 1821,2086"/>
<polyline points="1754,2136 1821,2136"/>
<polyline points="1030,2309 1030,2376"/>
<polyline points="1080,2309 1080,2376"/>
<polyline points="1130,2309 1130,2376"/>
<polyline points="1180,2309 1180,2376"/>
<polyline points="1230,2309 1230,2376"/>
<polyline points="1280,2309 1280,2376"/>
<polyline points="1328,2309 1328,2376"/>
<polyline points="1380,2309 1380,2376"/>
<polyline points="1428,2309 1428,2376"/>
<polyline points="1478,2309 1478,2376"/>
<polyline points="668,2737 715,2737"/>
<polyline points="805,2737 848,2737"/>
<polyline points="2084,2221 2084,2261"/>
<polyline points="2084,2349 2084,2399"/>
<polyline points="2421,2219 2421,2295"/>
<polyline points="2421,2321 2421,2399"/>
<polyline points="2376,2295 2466,2295"/>
<polyline points="2376,2321 2466,2321"/>
<polyline points="2091,2716 2091,2791"/>
<polyline points="2091,2819 2091,2899"/>
<polyline points="2046,2791 2136,2791"/>
<polyline points="2046,2819 2136,2819"/>
<polyline points="2998,1923 2998,1966"/>
<polyline points="2998,2053 2998,2096"/>
<polyline points="3246,1285 3246,1353"/>
<polyline points="3021,1420 3089,1420"/>
<polyline points="3021,1478 3089,1478"/>
<polyline points="3021,1535 3089,1535"/>
<polyline points="3246,1603 3246,1669"/>
<polyline points="3246,2119 3246,2184"/>
<polyline points="3246,2434 3246,2501"/>
<polyline points="3021,2249 3089,2249"/>
<polyline points="3021,2309 3089,2309"/>
<polyline points="3021,2367 3089,2367"/></g>
<g stroke="#a53a3a" stroke-width="4.5" stroke-linejoin="round"><rect x="760" y="1312" width="994" height="997" fill="#ffffc4"/>
<rect x="1495" y="233" width="251" height="167" fill="#ffffc4"/>
<rect x="3089" y="1353" width="347" height="250" fill="#ffffc4"/>
<rect x="3089" y="2184" width="347" height="250" fill="#ffffc4"/>
<polygon points="566,682 604,682 604,756 585,772 566,756" fill="#f3f0ed"/>
<circle cx="585" cy="955" r="5" fill="#a53a3a" stroke="none"/>
<rect x="998" y="792" width="90" height="44" fill="#f3f0ed"/>
<circle cx="950" cy="815" r="5" fill="#a53a3a" stroke="none"/>
<circle cx="1128" cy="815" r="5" fill="#a53a3a" stroke="none"/>
<circle cx="915" cy="975" r="5" fill="#55aa50" stroke="none"/>
<circle cx="705" cy="975" r="5" fill="#55aa50" stroke="none"/>
<circle cx="1128" cy="975" r="5" fill="#55aa50" stroke="none"/>
<circle cx="1160" cy="975" r="5" fill="#55aa50" stroke="none"/>
<polygon points="1313,130 1351,130 1351,204 1332,220 1313,204" fill="#f3f0ed"/>
<rect x="1315" y="932" width="45" height="88" fill="#f3f0ed"/>
<circle cx="1338" cy="890" r="5" fill="#a53a3a" stroke="none"/>
<circle cx="1338" cy="1068" r="5" fill="#a53a3a" stroke="none"/>
<polygon points="1573,75 1611,75 1611,149 1592,165 1573,149" fill="#f3f0ed"/>
<polygon points="1631,560 1669,560 1669,481 1650,465 1631,481" fill="#f3f0ed"/>
<circle cx="1592" cy="465" r="5" fill="#a53a3a" stroke="none"/>
<circle cx="1650" cy="165" r="5" fill="#a53a3a" stroke="none"/>
<polygon points="1977,130 2015,130 2015,204 1996,220 1977,204" fill="#f3f0ed"/>
<circle cx="1996" cy="408" r="5" fill="#a53a3a" stroke="none"/>
<rect x="1878" y="792" width="88" height="44" fill="#f3f0ed"/>
<polygon points="2134,795 2025,795 2011,814 2025,833 2134,833" fill="#f3f0ed"/>
<circle cx="1831" cy="815" r="5" fill="#a53a3a" stroke="none"/>
<polygon points="2029,1130 2067,1130 2067,1204 2048,1220 2029,1204" fill="#f3f0ed"/>
<polygon points="2029,1530 2067,1530 2067,1421 2048,1405 2029,1421" fill="#f3f0ed"/>
<polygon points="821,1152 859,1152 859,1229 840,1245 821,1229" fill="#f3f0ed"/>
<polygon points="1501,1110 1539,1110 1539,1229 1520,1245 1501,1229" fill="#f3f0ed"/>
<polygon points="1601,1120 1639,1120 1639,1229 1620,1245 1601,1229" fill="#f3f0ed"/>
<polygon points="1649,1110 1687,1110 1687,1229 1668,1245 1649,1229" fill="#f3f0ed"/>
<circle cx="1222" cy="1247" r="5" fill="#a53a3a" stroke="none"/>
<circle cx="1270" cy="1247" r="5" fill="#a53a3a" stroke="none"/>
<circle cx="1322" cy="1247" r="5" fill="#a53a3a" stroke="none"/>
<circle cx="1372" cy="1247" r="5" fill="#a53a3a" stroke="none"/>
<circle cx="1420" cy="1247" r="5" fill="#a53a3a" stroke="none"/>
<circle cx="1470" cy="1247" r="5" fill="#a53a3a" stroke="none"/>
<circle cx="1570" cy="1247" r="5" fill="#a53a3a" stroke="none"/>
<circle cx="1270" cy="1222" r="5" fill="#55aa50" stroke="none"/>
<circle cx="1322" cy="1222" r="5" fill="#55aa50" stroke="none"/>
<circle cx="1372" cy="1222" r="5" fill="#55aa50" stroke="none"/>
<circle cx="1420" cy="1222" r="5" fill="#55aa50" stroke="none"/>
<circle cx="690" cy="1487" r="5" fill="#a53a3a" stroke="none"/>
<circle cx="690" cy="1537" r="5" fill="#a53a3a" stroke="none"/>
<circle cx="690" cy="1587" r="5" fill="#a53a3a" stroke="none"/>
<circle cx="690" cy="1637" r="5" fill="#a53a3a" stroke="none"/>
<polygon points="485,1668 676,1668 690,1687 676,1706 485,1706" fill="#f3f0ed"/>
<polygon points="445,1718 676,1718 690,1736 676,1756 445,1756" fill="#f3f0ed"/>
<polygon points="445,1767 676,1767 690,1786 676,1805 445,1805" fill="#f3f0ed"/>
<polygon points="483,1817 676,1817 690,1836 676,1855 483,1855" fill="#f3f0ed"/>
<polygon points="625,1867 676,1867 690,1886 676,1905 625,1905" fill="#f3f0ed"/>
<polygon points="557,1917 676,1917 690,1936 676,1955 557,1955" fill="#f3f0ed"/>
<polygon points="557,1967 676,1967 690,1986 676,2005 557,2005" fill="#f3f0ed"/>
<polygon points="557,2017 676,2017 690,2036 676,2055 557,2055" fill="#f3f0ed"/>
<polygon points="557,2067 676,2067 690,2086 676,2105 557,2105" fill="#f3f0ed"/>
<polygon points="555,2117 676,2117 690,2136 676,2155 555,2155" fill="#f3f0ed"/>
<polygon points="1954,1468 1840,1468 1826,1487 1840,1506 1954,1506" fill="#f3f0ed"/>
<circle cx="1821" cy="1537" r="5" fill="#a53a3a" stroke="none"/>
<polygon points="1954,1568 1840,1568 1826,1587 1840,1606 1954,1606" fill="#f3f0ed"/>
<polygon points="1954,1618 1840,1618 1826,1637 1840,1656 1954,1656" fill="#f3f0ed"/>
<polygon points="1954,1668 1840,1668 1826,1687 1840,1706 1954,1706" fill="#f3f0ed"/>
<polygon points="1963,1718 1840,1718 1826,1736 1840,1756 1963,1756" fill="#f3f0ed"/>
<polygon points="1976,1767 1840,1767 1826,1786 1840,1805 1976,1805" fill="#f3f0ed"/>
<polygon points="1971,1817 1840,1817 1826,1836 1840,1855 1971,1855" fill="#f3f0ed"/>
<polygon points="1981,1867 1840,1867 1826,1886 1840,1905 1981,1905" fill="#f3f0ed"/>
<polygon points="1981,1917 1840,1917 1826,1936 1840,1955 1981,1955" fill="#f3f0ed"/>
<polygon points="1974,1967 1840,1967 1826,1986 1840,2005 1974,2005" fill="#f3f0ed"/>
<polygon points="1954,2017 1840,2017 1826,2036 1840,2055 1954,2055" fill="#f3f0ed"/>
<circle cx="1821" cy="2086" r="5" fill="#a53a3a" stroke="none"/>
<polygon points="1954,2117 1840,2117 1826,2136 1840,2155 1954,2155" fill="#f3f0ed"/>
<polygon points="1011,2511 1049,2511 1049,2395 1030,2379 1011,2395" fill="#f3f0ed"/>
<polygon points="1061,2511 1099,2511 1099,2395 1080,2379 1061,2395" fill="#f3f0ed"/>
<polygon points="1111,2511 1149,2511 1149,2395 1130,2379 1111,2395" fill="#f3f0ed"/>
<polygon points="1161,2511 1199,2511 1199,2395 1180,2379 1161,2395" fill="#f3f0ed"/>
<circle cx="1230" cy="2376" r="5" fill="#a53a3a" stroke="none"/>
<polygon points="1261,2511 1299,2511 1299,2395 1280,2379 1261,2395" fill="#f3f0ed"/>
<polygon points="1309,2511 1347,2511 1347,2395 1328,2379 1309,2395" fill="#f3f0ed"/>
<polygon points="1361,2493 1399,2493 1399,2395 1380,2379 1361,2395" fill="#f3f0ed"/>
<polygon points="1409,2493 1447,2493 1447,2395 1428,2379 1409,2395" fill="#f3f0ed"/>
<polygon points="1459,2493 1497,2493 1497,2395 1478,2379 1459,2395" fill="#f3f0ed"/>
<polygon points="548,2718 654,2718 668,2737 654,2756 548,2756" fill="#f3f0ed"/>
<rect x="715" y="2716" width="90" height="43" fill="#f3f0ed"/>
<circle cx="848" cy="2737" r="5" fill="#a53a3a" stroke="none"/>
<rect x="2061" y="2261" width="45" height="88" fill="#f3f0ed"/>
<polygon points="2065,2491 2103,2491 2103,2415 2084,2399 2065,2415" fill="#f3f0ed"/>
<circle cx="2084" cy="2221" r="5" fill="#55aa50" stroke="none"/>
<polygon points="2402,2039 2440,2039 2440,2203 2421,2219 2402,2203" fill="#f3f0ed"/>
<polygon points="2402,2493 2440,2493 2440,2415 2421,2399 2402,2415" fill="#f3f0ed"/>
<polygon points="2072,2594 2110,2594 2110,2700 2091,2716 2072,2700" fill="#f3f0ed"/>
<polygon points="2072,2993 2110,2993 2110,2915 2091,2899 2072,2915" fill="#f3f0ed"/>
<polygon points="2979,1743 3017,1743 3017,1907 2998,1923 2979,1907" fill="#f3f0ed"/>
<rect x="2976" y="1966" width="43" height="87" fill="#f3f0ed"/>
<circle cx="2998" cy="2096" r="5" fill="#a53a3a" stroke="none"/>
<polygon points="3227,1110 3265,1110 3265,1269 3246,1285 3227,1269" fill="#f3f0ed"/>
<polygon points="2861,1401 3007,1401 3021,1420 3007,1439 2861,1439" fill="#f3f0ed"/>
<polygon points="2871,1459 3007,1459 3021,1478 3007,1497 2871,1497" fill="#f3f0ed"/>
<polygon points="2871,1516 3007,1516 3021,1535 3007,1554 2871,1554" fill="#f3f0ed"/>
<polygon points="3227,1761 3265,1761 3265,1685 3246,1669 3227,1685" fill="#f3f0ed"/>
<polygon points="3227,1943 3265,1943 3265,2103 3246,2119 3227,2103" fill="#f3f0ed"/>
<polygon points="3227,2594 3265,2594 3265,2517 3246,2501 3227,2517" fill="#f3f0ed"/>
<polygon points="2889,2230 3007,2230 3021,2249 3007,2268 2889,2268" fill="#f3f0ed"/>
<polygon points="2819,2290 3007,2290 3021,2309 3007,2328 2819,2328" fill="#f3f0ed"/>
<polygon points="2869,2348 3007,2348 3021,2367 3007,2386 2869,2386" fill="#f3f0ed"/></g>
<g><text x="585" y="727" font-size="27" fill="#a53a3a" text-anchor="middle" dominant-baseline="central" transform="rotate(90 585 727)" textLength="60" lengthAdjust="spacingAndGlyphs">GND</text>
<text x="480" y="863" font-size="27" fill="#262626" text-anchor="middle" dominant-baseline="central">10nF</text>
<text x="672" y="865" font-size="27" fill="#262626" text-anchor="middle" dominant-baseline="central">C5</text>
<text x="1040" y="757" font-size="27" fill="#262626" text-anchor="middle" dominant-baseline="central">20kΩ</text>
<text x="1040" y="860" font-size="27" fill="#262626" text-anchor="middle" dominant-baseline="central">R1</text>
<text x="1005" y="895" font-size="27" fill="#262626" text-anchor="middle" dominant-baseline="central">3.3nF</text>
<text x="1003" y="1055" font-size="27" fill="#262626" text-anchor="middle" dominant-baseline="central">C6</text>
<text x="1332" y="175" font-size="27" fill="#a53a3a" text-anchor="middle" dominant-baseline="central" transform="rotate(90 1332 175)" textLength="60" lengthAdjust="spacingAndGlyphs">GND</text>
<text x="1243" y="318" font-size="27" fill="#262626" text-anchor="middle" dominant-baseline="central">0F</text>
<text x="1418" y="318" font-size="27" fill="#262626" text-anchor="middle" dominant-baseline="central">C1</text>
<text x="1290" y="972" font-size="27" fill="#262626" text-anchor="middle" dominant-baseline="central">0Ω</text>
<text x="1372" y="994" font-size="27" fill="#262626" text-anchor="middle" dominant-baseline="central">R2</text>
<text x="48" y="230" font-size="27" fill="#262626" text-anchor="middle" dominant-baseline="central">F</text>
<text x="65" y="895" font-size="27" fill="#262626" text-anchor="middle" dominant-baseline="central">1nF</text>
<text x="1592" y="120" font-size="27" fill="#a53a3a" text-anchor="middle" dominant-baseline="central" transform="rotate(90 1592 120)" textLength="60" lengthAdjust="spacingAndGlyphs">GND</text>
<text x="1650" y="512" font-size="27" fill="#a53a3a" text-anchor="middle" dominant-baseline="central" transform="rotate(90 1650 512)" textLength="65" lengthAdjust="spacingAndGlyphs">GND</text>
<text x="1592" y="275" font-size="22" fill="#a53a3a" text-anchor="middle" dominant-baseline="central" transform="rotate(-90 1592 275)">GND</text>
<text x="1650" y="275" font-size="22" fill="#a53a3a" text-anchor="middle" dominant-baseline="central" transform="rotate(-90 1650 275)">XOUT</text>
<text x="1592" y="360" font-size="22" fill="#a53a3a" text-anchor="middle" dominant-baseline="central" transform="rotate(-90 1592 360)">XIN</text>
<text x="1650" y="360" font-size="22" fill="#a53a3a" text-anchor="middle" dominant-baseline="central" transform="rotate(-90 1650 360)">GND</text>
<text x="1761" y="143" font-size="26" fill="#2f8585" text-anchor="start" dominant-baseline="central">U1</text>
<text x="1761" y="175" font-size="26" fill="#2f8585" text-anchor="start" dominant-baseline="central" textLength="125" lengthAdjust="spacingAndGlyphs">ATS400B</text>
<text x="1996" y="175" font-size="27" fill="#a53a3a" text-anchor="middle" dominant-baseline="central" transform="rotate(90 1996 175)" textLength="60" lengthAdjust="spacingAndGlyphs">GND</text>
<text x="1906" y="318" font-size="27" fill="#262626" text-anchor="middle" dominant-baseline="central">0F</text>
<text x="2083" y="318" font-size="27" fill="#262626" text-anchor="middle" dominant-baseline="central">C2</text>
<text x="2072" y="815" font-size="30" fill="#a53a3a" text-anchor="middle" dominant-baseline="central" textLength="95" lengthAdjust="spacingAndGlyphs">U0TXD</text>
<text x="1919" y="757" font-size="27" fill="#262626" text-anchor="middle" dominant-baseline="central">499Ω</text>
<text x="1919" y="860" font-size="27" fill="#262626" text-anchor="middle" dominant-baseline="central">R3</text>
<text x="1771" y="1220" font-size="26" fill="#2f8585" text-anchor="start" dominant-baseline="central">U2</text>
<text x="1771" y="1253" font-size="26" fill="#2f8585" text-anchor="start" dominant-baseline="central" textLength="190" lengthAdjust="spacingAndGlyphs">ESP32-D0WD</text>
<text x="2048" y="1175" font-size="27" fill="#a53a3a" text-anchor="middle" dominant-baseline="central" transform="rotate(90 2048 1175)" textLength="60" lengthAdjust="spacingAndGlyphs">GND</text>
<text x="2048" y="1468" font-size="27" fill="#a53a3a" text-anchor="middle" dominant-baseline="central" transform="rotate(90 2048 1468)" textLength="95" lengthAdjust="spacingAndGlyphs">VDD3P3</text>
<text x="1948" y="1312" font-size="27" fill="#262626" text-anchor="middle" dominant-baseline="central">1nF</text>
<text x="2132" y="1312" font-size="27" fill="#262626" text-anchor="middle" dominant-baseline="central">C4</text>
<text x="840" y="1328" font-size="22" fill="#a53a3a" text-anchor="end" dominant-baseline="central" transform="rotate(-90 840 1328)">GND</text>
<text x="828" y="1282" font-size="17" fill="#a53a3a" text-anchor="middle" dominant-baseline="central" transform="rotate(-90 828 1282)">49</text>
<text x="1222" y="1328" font-size="22" fill="#a53a3a" text-anchor="end" dominant-baseline="central" transform="rotate(-90 1222 1328)">CAP2</text>
<text x="1210" y="1282" font-size="17" fill="#a53a3a" text-anchor="middle" dominant-baseline="central" transform="rotate(-90 1210 1282)">48</text>
<text x="1270" y="1328" font-size="22" fill="#a53a3a" text-anchor="end" dominant-baseline="central" transform="rotate(-90 1270 1328)">CAP1</text>
<text x="1258" y="1282" font-size="17" fill="#a53a3a" text-anchor="middle" dominant-baseline="central" transform="rotate(-90 1258 1282)">47</text>
<text x="1322" y="1328" font-size="22" fill="#a53a3a" text-anchor="end" dominant-baseline="central" transform="rotate(-90 1322 1328)">VDDA</text>
<text x="1310" y="1282" font-size="17" fill="#a53a3a" text-anchor="middle" dominant-baseline="central" transform="rotate(-90 1310 1282)">46</text>
<text x="1372" y="1328" font-size="22" fill="#a53a3a" text-anchor="end" dominant-baseline="central" transform="rotate(-90 1372 1328)">XTAL_P</text>
<text x="1360" y="1282" font-size="17" fill="#a53a3a" text-anchor="middle" dominant-baseline="central" transform="rotate(-90 1360 1282)">45</text>
<text x="1420" y="1328" font-size="22" fill="#a53a3a" text-anchor="end" dominant-baseline="central" transform="rotate(-90 1420 1328)">XTAL_N</text>
<text x="1408" y="1282" font-size="17" fill="#a53a3a" text-anchor="middle" dominant-baseline="central" transform="rotate(-90 1408 1282)">44</text>
<text x="1470" y="1328" font-size="22" fill="#a53a3a" text-anchor="end" dominant-baseline="central" transform="rotate(-90 1470 1328)">VDDA</text>
<text x="1458" y="1282" font-size="17" fill="#a53a3a" text-anchor="middle" dominant-baseline="central" transform="rotate(-90 1458 1282)">43</text>
<text x="1520" y="1328" font-size="22" fill="#a53a3a" text-anchor="end" dominant-baseline="central" transform="rotate(-90 1520 1328)">GPIO21</text>
<text x="1508" y="1282" font-size="17" fill="#a53a3a" text-anchor="middle" dominant-baseline="central" transform="rotate(-90 1508 1282)">42</text>
<text x="1570" y="1328" font-size="22" fill="#a53a3a" text-anchor="end" dominant-baseline="central" transform="rotate(-90 1570 1328)">U0TXD</text>
<text x="1558" y="1282" font-size="17" fill="#a53a3a" text-anchor="middle" dominant-baseline="central" transform="rotate(-90 1558 1282)">41</text>
<text x="1620" y="1328" font-size="22" fill="#a53a3a" text-anchor="end" dominant-baseline="central" transform="rotate(-90 1620 1328)">U0RXD</text>
<text x="1608" y="1282" font-size="17" fill="#a53a3a" text-anchor="middle" dominant-baseline="central" transform="rotate(-90 1608 1282)">40</text>
<text x="1668" y="1328" font-size="22" fill="#a53a3a" text-anchor="end" dominant-baseline="central" transform="rotate(-90 1668 1328)">GPIO22</text>
<text x="1656" y="1282" font-size="17" fill="#a53a3a" text-anchor="middle" dominant-baseline="central" transform="rotate(-90 1656 1282)">39</text>
<text x="840" y="1198" font-size="27" fill="#a53a3a" text-anchor="middle" dominant-baseline="central" transform="rotate(90 840 1198)" textLength="63" lengthAdjust="spacingAndGlyphs">GND</text>
<text x="1520" y="1178" font-size="27" fill="#a53a3a" text-anchor="middle" dominant-baseline="central" transform="rotate(90 1520 1178)" textLength="105" lengthAdjust="spacingAndGlyphs">GPIO21</text>
<text x="1620" y="1182" font-size="27" fill="#a53a3a" text-anchor="middle" dominant-baseline="central" transform="rotate(90 1620 1182)" textLength="95" lengthAdjust="spacingAndGlyphs">U0RXD</text>
<text x="1668" y="1178" font-size="27" fill="#a53a3a" text-anchor="middle" dominant-baseline="central" transform="rotate(90 1668 1178)" textLength="105" lengthAdjust="spacingAndGlyphs">GPIO22</text>
<text x="775" y="1487" font-size="22" fill="#a53a3a" text-anchor="start" dominant-baseline="central">VDDA</text>
<text x="725" y="1473" font-size="17" fill="#a53a3a" text-anchor="middle" dominant-baseline="central">1</text>
<text x="775" y="1537" font-size="22" fill="#a53a3a" text-anchor="start" dominant-baseline="central">LNA_IN</text>
<text x="725" y="1523" font-size="17" fill="#a53a3a" text-anchor="middle" dominant-baseline="central">2</text>
<text x="775" y="1587" font-size="22" fill="#a53a3a" text-anchor="start" dominant-baseline="central">VDD3P3</text>
<text x="725" y="1573" font-size="17" fill="#a53a3a" text-anchor="middle" dominant-baseline="central">3</text>
<text x="775" y="1637" font-size="22" fill="#a53a3a" text-anchor="start" dominant-baseline="central">VDD3P3</text>
<text x="725" y="1623" font-size="17" fill="#a53a3a" text-anchor="middle" dominant-baseline="central">4</text>
<text x="775" y="1687" font-size="22" fill="#a53a3a" text-anchor="start" dominant-baseline="central">SENSOR_VP</text>
<text x="725" y="1673" font-size="17" fill="#a53a3a" text-anchor="middle" dominant-baseline="central">5</text>
<text x="588" y="1688" font-size="30" fill="#a53a3a" text-anchor="middle" dominant-baseline="central" textLength="177" lengthAdjust="spacingAndGlyphs">SENSOR_VP</text>
<text x="775" y="1736" font-size="22" fill="#a53a3a" text-anchor="start" dominant-baseline="central">SENSOR_CAPP</text>
<text x="725" y="1722" font-size="17" fill="#a53a3a" text-anchor="middle" dominant-baseline="central">6</text>
<text x="568" y="1738" font-size="30" fill="#a53a3a" text-anchor="middle" dominant-baseline="central" textLength="217" lengthAdjust="spacingAndGlyphs">SENSOR_CAPP</text>
<text x="775" y="1786" font-size="22" fill="#a53a3a" text-anchor="start" dominant-baseline="central">SENSOR_CAPN</text>
<text x="725" y="1772" font-size="17" fill="#a53a3a" text-anchor="middle" dominant-baseline="central">7</text>
<text x="568" y="1787" font-size="30" fill="#a53a3a" text-anchor="middle" dominant-baseline="central" textLength="217" lengthAdjust="spacingAndGlyphs">SENSOR_CAPN</text>
<text x="775" y="1836" font-size="22" fill="#a53a3a" text-anchor="start" dominant-baseline="central">SENSOR_VN</text>
<text x="725" y="1822" font-size="17" fill="#a53a3a" text-anchor="middle" dominant-baseline="central">8</text>
<text x="586" y="1837" font-size="30" fill="#a53a3a" text-anchor="middle" dominant-baseline="central" textLength="179" lengthAdjust="spacingAndGlyphs">SENSOR_VN</text>
<text x="775" y="1886" font-size="22" fill="#a53a3a" text-anchor="start" dominant-baseline="central">CHIP_PU</text>
<text x="725" y="1872" font-size="17" fill="#a53a3a" text-anchor="middle" dominant-baseline="central">9</text>
<text x="658" y="1887" font-size="30" fill="#a53a3a" text-anchor="middle" dominant-baseline="central" textLength="37" lengthAdjust="spacingAndGlyphs">EN</text>
<text x="775" y="1936" font-size="22" fill="#a53a3a" text-anchor="start" dominant-baseline="central">VDET_1</text>
<text x="725" y="1922" font-size="17" fill="#a53a3a" text-anchor="middle" dominant-baseline="central">10</text>
<text x="624" y="1937" font-size="30" fill="#a53a3a" text-anchor="middle" dominant-baseline="central" textLength="105" lengthAdjust="spacingAndGlyphs">GPIO34</text>
<text x="775" y="1986" font-size="22" fill="#a53a3a" text-anchor="start" dominant-baseline="central">VDET_2</text>
<text x="725" y="1972" font-size="17" fill="#a53a3a" text-anchor="middle" dominant-baseline="central">11</text>
<text x="624" y="1987" font-size="30" fill="#a53a3a" text-anchor="middle" dominant-baseline="central" textLength="105" lengthAdjust="spacingAndGlyphs">GPIO35</text>
<text x="775" y="2036" font-size="22" fill="#a53a3a" text-anchor="start" dominant-baseline="central">32K_XP</text>
<text x="725" y="2022" font-size="17" fill="#a53a3a" text-anchor="middle" dominant-baseline="central">12</text>
<text x="624" y="2037" font-size="30" fill="#a53a3a" text-anchor="middle" dominant-baseline="central" textLength="105" lengthAdjust="spacingAndGlyphs">GPIO32</text>
<text x="775" y="2086" font-size="22" fill="#a53a3a" text-anchor="start" dominant-baseline="central">32K_XN</text>
<text x="725" y="2072" font-size="17" fill="#a53a3a" text-anchor="middle" dominant-baseline="central">13</text>
<text x="624" y="2087" font-size="30" fill="#a53a3a" text-anchor="middle" dominant-baseline="central" textLength="105" lengthAdjust="spacingAndGlyphs">GPIO33</text>
<text x="775" y="2136" font-size="22" fill="#a53a3a" text-anchor="start" dominant-baseline="central">GPIO25</text>
<text x="725" y="2122" font-size="17" fill="#a53a3a" text-anchor="middle" dominant-baseline="central">14</text>
<text x="622" y="2137" font-size="30" fill="#a53a3a" text-anchor="middle" dominant-baseline="central" textLength="107" lengthAdjust="spacingAndGlyphs">GPIO25</text>
<text x="1738" y="1487" font-size="22" fill="#a53a3a" text-anchor="end" dominant-baseline="central">GPIO19</text>
<text x="1786" y="1473" font-size="17" fill="#a53a3a" text-anchor="middle" dominant-baseline="central">38</text>
<text x="1890" y="1488" font-size="30" fill="#a53a3a" text-anchor="middle" dominant-baseline="central" textLength="100" lengthAdjust="spacingAndGlyphs">GPIO19</text>
<text x="1738" y="1537" font-size="22" fill="#a53a3a" text-anchor="end" dominant-baseline="central">VDD3P3_CPU</text>
<text x="1786" y="1523" font-size="17" fill="#a53a3a" text-anchor="middle" dominant-baseline="central">37</text>
<text x="1738" y="1587" font-size="22" fill="#a53a3a" text-anchor="end" dominant-baseline="central">GPIO23</text>
<text x="1786" y="1573" font-size="17" fill="#a53a3a" text-anchor="middle" dominant-baseline="central">36</text>
<text x="1890" y="1588" font-size="30" fill="#a53a3a" text-anchor="middle" dominant-baseline="central" textLength="100" lengthAdjust="spacingAndGlyphs">GPIO23</text>
<text x="1738" y="1637" font-size="22" fill="#a53a3a" text-anchor="end" dominant-baseline="central">GPIO18</text>
<text x="1786" y="1623" font-size="17" fill="#a53a3a" text-anchor="middle" dominant-baseline="central">35</text>
<text x="1890" y="1638" font-size="30" fill="#a53a3a" text-anchor="middle" dominant-baseline="central" textLength="100" lengthAdjust="spacingAndGlyphs">GPIO18</text>
<text x="1738" y="1687" font-size="22" fill="#a53a3a" text-anchor="end" dominant-baseline="central">GPIO5</text>
<text x="1786" y="1673" font-size="17" fill="#a53a3a" text-anchor="middle" dominant-baseline="central">34</text>
<text x="1890" y="1688" font-size="30" fill="#a53a3a" text-anchor="middle" dominant-baseline="central" textLength="100" lengthAdjust="spacingAndGlyphs">GPIO51</text>
<text x="1738" y="1736" font-size="22" fill="#a53a3a" text-anchor="end" dominant-baseline="central">SD_DATA_1</text>
<text x="1786" y="1722" font-size="17" fill="#a53a3a" text-anchor="middle" dominant-baseline="central">33</text>
<text x="1894" y="1738" font-size="30" fill="#a53a3a" text-anchor="middle" dominant-baseline="central" textLength="109" lengthAdjust="spacingAndGlyphs">SDI/SD1</text>
<text x="1738" y="1786" font-size="22" fill="#a53a3a" text-anchor="end" dominant-baseline="central">SD_DATA_0</text>
<text x="1786" y="1772" font-size="17" fill="#a53a3a" text-anchor="middle" dominant-baseline="central">32</text>
<text x="1901" y="1787" font-size="30" fill="#a53a3a" text-anchor="middle" dominant-baseline="central" textLength="122" lengthAdjust="spacingAndGlyphs">SDO/SD0</text>
<text x="1738" y="1836" font-size="22" fill="#a53a3a" text-anchor="end" dominant-baseline="central">SD_CLK</text>
<text x="1786" y="1822" font-size="17" fill="#a53a3a" text-anchor="middle" dominant-baseline="central">31</text>
<text x="1898" y="1837" font-size="30" fill="#a53a3a" text-anchor="middle" dominant-baseline="central" textLength="117" lengthAdjust="spacingAndGlyphs">SCK/CLK</text>
<text x="1738" y="1886" font-size="22" fill="#a53a3a" text-anchor="end" dominant-baseline="central">SD_CMD</text>
<text x="1786" y="1872" font-size="17" fill="#a53a3a" text-anchor="middle" dominant-baseline="central">30</text>
<text x="1903" y="1887" font-size="30" fill="#a53a3a" text-anchor="middle" dominant-baseline="central" textLength="127" lengthAdjust="spacingAndGlyphs">SCS/SMD</text>
<text x="1738" y="1936" font-size="22" fill="#a53a3a" text-anchor="end" dominant-baseline="central">SD_DATA_3</text>
<text x="1786" y="1922" font-size="17" fill="#a53a3a" text-anchor="middle" dominant-baseline="central">29</text>
<text x="1903" y="1937" font-size="30" fill="#a53a3a" text-anchor="middle" dominant-baseline="central" textLength="127" lengthAdjust="spacingAndGlyphs">SWP/SD3</text>
<text x="1738" y="1986" font-size="22" fill="#a53a3a" text-anchor="end" dominant-baseline="central">SD_DATA_2</text>
<text x="1786" y="1972" font-size="17" fill="#a53a3a" text-anchor="middle" dominant-baseline="central">28</text>
<text x="1900" y="1987" font-size="30" fill="#a53a3a" text-anchor="middle" dominant-baseline="central" textLength="120" lengthAdjust="spacingAndGlyphs">SHD/SD2</text>
<text x="1738" y="2036" font-size="22" fill="#a53a3a" text-anchor="end" dominant-baseline="central">GPIO17</text>
<text x="1786" y="2022" font-size="17" fill="#a53a3a" text-anchor="middle" dominant-baseline="central">27</text>
<text x="1890" y="2037" font-size="30" fill="#a53a3a" text-anchor="middle" dominant-baseline="central" textLength="100" lengthAdjust="spacingAndGlyphs">GPIO17</text>
<text x="1738" y="2086" font-size="22" fill="#a53a3a" text-anchor="end" dominant-baseline="central">VDD_SDIO</text>
<text x="1786" y="2072" font-size="17" fill="#a53a3a" text-anchor="middle" dominant-baseline="central">26</text>
<text x="1738" y="2136" font-size="22" fill="#a53a3a" text-anchor="end" dominant-baseline="central">GPIO16</text>
<text x="1786" y="2122" font-size="17" fill="#a53a3a" text-anchor="middle" dominant-baseline="central">25</text>
<text x="1890" y="2137" font-size="30" fill="#a53a3a" text-anchor="middle" dominant-baseline="central" textLength="100" lengthAdjust="spacingAndGlyphs">GPIO16</text>
<text x="1030" y="2293" font-size="22" fill="#a53a3a" text-anchor="start" dominant-baseline="central" transform="rotate(-90 1030 2293)">GPIO26</text>
<text x="1018" y="2341" font-size="17" fill="#a53a3a" text-anchor="middle" dominant-baseline="central" transform="rotate(-90 1018 2341)">15</text>
<text x="1030" y="2445" font-size="27" fill="#a53a3a" text-anchor="middle" dominant-baseline="central" transform="rotate(90 1030 2445)" textLength="102" lengthAdjust="spacingAndGlyphs">GPIO26</text>
<text x="1080" y="2293" font-size="22" fill="#a53a3a" text-anchor="start" dominant-baseline="central" transform="rotate(-90 1080 2293)">GPIO27</text>
<text x="1068" y="2341" font-size="17" fill="#a53a3a" text-anchor="middle" dominant-baseline="central" transform="rotate(-90 1068 2341)">16</text>
<text x="1080" y="2445" font-size="27" fill="#a53a3a" text-anchor="middle" dominant-baseline="central" transform="rotate(90 1080 2445)" textLength="102" lengthAdjust="spacingAndGlyphs">GPIO27</text>
<text x="1130" y="2293" font-size="22" fill="#a53a3a" text-anchor="start" dominant-baseline="central" transform="rotate(-90 1130 2293)">MTMS</text>
<text x="1118" y="2341" font-size="17" fill="#a53a3a" text-anchor="middle" dominant-baseline="central" transform="rotate(-90 1118 2341)">17</text>
<text x="1130" y="2445" font-size="27" fill="#a53a3a" text-anchor="middle" dominant-baseline="central" transform="rotate(90 1130 2445)" textLength="102" lengthAdjust="spacingAndGlyphs">GPIO14</text>
<text x="1180" y="2293" font-size="22" fill="#a53a3a" text-anchor="start" dominant-baseline="central" transform="rotate(-90 1180 2293)">MTDI</text>
<text x="1168" y="2341" font-size="17" fill="#a53a3a" text-anchor="middle" dominant-baseline="central" transform="rotate(-90 1168 2341)">18</text>
<text x="1180" y="2445" font-size="27" fill="#a53a3a" text-anchor="middle" dominant-baseline="central" transform="rotate(90 1180 2445)" textLength="102" lengthAdjust="spacingAndGlyphs">GPIO12</text>
<text x="1230" y="2293" font-size="22" fill="#a53a3a" text-anchor="start" dominant-baseline="central" transform="rotate(-90 1230 2293)">VDD3P3_RTC</text>
<text x="1218" y="2341" font-size="17" fill="#a53a3a" text-anchor="middle" dominant-baseline="central" transform="rotate(-90 1218 2341)">19</text>
<text x="1280" y="2293" font-size="22" fill="#a53a3a" text-anchor="start" dominant-baseline="central" transform="rotate(-90 1280 2293)">MTCK</text>
<text x="1268" y="2341" font-size="17" fill="#a53a3a" text-anchor="middle" dominant-baseline="central" transform="rotate(-90 1268 2341)">20</text>
<text x="1280" y="2445" font-size="27" fill="#a53a3a" text-anchor="middle" dominant-baseline="central" transform="rotate(90 1280 2445)" textLength="102" lengthAdjust="spacingAndGlyphs">GPIO13</text>
<text x="1328" y="2293" font-size="22" fill="#a53a3a" text-anchor="start" dominant-baseline="central" transform="rotate(-90 1328 2293)">MTDO</text>
<text x="1316" y="2341" font-size="17" fill="#a53a3a" text-anchor="middle" dominant-baseline="central" transform="rotate(-90 1316 2341)">21</text>
<text x="1328" y="2445" font-size="27" fill="#a53a3a" text-anchor="middle" dominant-baseline="central" transform="rotate(90 1328 2445)" textLength="102" lengthAdjust="spacingAndGlyphs">GPIO15</text>
<text x="1380" y="2293" font-size="22" fill="#a53a3a" text-anchor="start" dominant-baseline="central" transform="rotate(-90 1380 2293)">GPIO2</text>
<text x="1368" y="2341" font-size="17" fill="#a53a3a" text-anchor="middle" dominant-baseline="central" transform="rotate(-90 1368 2341)">22</text>
<text x="1380" y="2436" font-size="27" fill="#a53a3a" text-anchor="middle" dominant-baseline="central" transform="rotate(90 1380 2436)" textLength="84" lengthAdjust="spacingAndGlyphs">GPIO2</text>
<text x="1428" y="2293" font-size="22" fill="#a53a3a" text-anchor="start" dominant-baseline="central" transform="rotate(-90 1428 2293)">GPIO0</text>
<text x="1416" y="2341" font-size="17" fill="#a53a3a" text-anchor="middle" dominant-baseline="central" transform="rotate(-90 1416 2341)">23</text>
<text x="1428" y="2436" font-size="27" fill="#a53a3a" text-anchor="middle" dominant-baseline="central" transform="rotate(90 1428 2436)" textLength="84" lengthAdjust="spacingAndGlyphs">GPIO0</text>
<text x="1478" y="2293" font-size="22" fill="#a53a3a" text-anchor="start" dominant-baseline="central" transform="rotate(-90 1478 2293)">GPIO4</text>
<text x="1466" y="2341" font-size="17" fill="#a53a3a" text-anchor="middle" dominant-baseline="central" transform="rotate(-90 1466 2341)">24</text>
<text x="1478" y="2436" font-size="27" fill="#a53a3a" text-anchor="middle" dominant-baseline="central" transform="rotate(90 1478 2436)" textLength="84" lengthAdjust="spacingAndGlyphs">GPIO4</text>
<text x="608" y="2738" font-size="30" fill="#a53a3a" text-anchor="middle" dominant-baseline="central" textLength="92" lengthAdjust="spacingAndGlyphs">VDD33</text>
<text x="757" y="2679" font-size="27" fill="#262626" text-anchor="middle" dominant-baseline="central">10kΩ</text>
<text x="757" y="2784" font-size="27" fill="#262626" text-anchor="middle" dominant-baseline="central">R9</text>
<text x="2084" y="2445" font-size="27" fill="#a53a3a" text-anchor="middle" dominant-baseline="central" transform="rotate(90 2084 2445)" textLength="62" lengthAdjust="spacingAndGlyphs">GND</text>
<text x="2034" y="2301" font-size="27" fill="#262626" text-anchor="middle" dominant-baseline="central">2kΩ</text>
<text x="2119" y="2321" font-size="27" fill="#262626" text-anchor="middle" dominant-baseline="central">R4</text>
<text x="2421" y="2129" font-size="27" fill="#a53a3a" text-anchor="middle" dominant-baseline="central" transform="rotate(90 2421 2129)" textLength="150" lengthAdjust="spacingAndGlyphs">VDD_SDIO</text>
<text x="2421" y="2446" font-size="27" fill="#a53a3a" text-anchor="middle" dominant-baseline="central" transform="rotate(90 2421 2446)" textLength="64" lengthAdjust="spacingAndGlyphs">GND</text>
<text x="2328" y="2306" font-size="27" fill="#262626" text-anchor="middle" dominant-baseline="central">C24</text>
<text x="2521" y="2308" font-size="27" fill="#262626" text-anchor="middle" dominant-baseline="central">1µF</text>
<text x="2091" y="2655" font-size="27" fill="#a53a3a" text-anchor="middle" dominant-baseline="central" transform="rotate(90 2091 2655)" textLength="92" lengthAdjust="spacingAndGlyphs">VDD33</text>
<text x="2091" y="2946" font-size="27" fill="#a53a3a" text-anchor="middle" dominant-baseline="central" transform="rotate(90 2091 2946)" textLength="64" lengthAdjust="spacingAndGlyphs">GND</text>
<text x="1996" y="2804" font-size="27" fill="#262626" text-anchor="middle" dominant-baseline="central">C19</text>
<text x="2188" y="2806" font-size="27" fill="#262626" text-anchor="middle" dominant-baseline="central">1nF</text>
<text x="2998" y="1833" font-size="27" fill="#a53a3a" text-anchor="middle" dominant-baseline="central" transform="rotate(90 2998 1833)" textLength="150" lengthAdjust="spacingAndGlyphs">VDD_SDIO</text>
<text x="2948" y="2001" font-size="27" fill="#262626" text-anchor="middle" dominant-baseline="central">1kΩ</text>
<text x="3031" y="2023" font-size="27" fill="#262626" text-anchor="middle" dominant-baseline="central">R10</text>
<text x="3246" y="1198" font-size="27" fill="#a53a3a" text-anchor="middle" dominant-baseline="central" transform="rotate(90 3246 1198)" textLength="145" lengthAdjust="spacingAndGlyphs">VDD_SDIO</text>
<text x="2941" y="1421" font-size="30" fill="#a53a3a" text-anchor="middle" dominant-baseline="central" textLength="132" lengthAdjust="spacingAndGlyphs">SCS/CMD</text>
<text x="3106" y="1420" font-size="22" fill="#a53a3a" text-anchor="start" dominant-baseline="central">/CS</text>
<text x="3388" y="1420" font-size="22" fill="#a53a3a" text-anchor="end" dominant-baseline="central">DI</text>
<text x="2946" y="1479" font-size="30" fill="#a53a3a" text-anchor="middle" dominant-baseline="central" textLength="122" lengthAdjust="spacingAndGlyphs">SCK/CLK</text>
<text x="3106" y="1478" font-size="22" fill="#a53a3a" text-anchor="start" dominant-baseline="central">CLK</text>
<text x="3388" y="1478" font-size="22" fill="#a53a3a" text-anchor="end" dominant-baseline="central">DO</text>
<text x="2946" y="1536" font-size="30" fill="#a53a3a" text-anchor="middle" dominant-baseline="central" textLength="122" lengthAdjust="spacingAndGlyphs">SHD/SD2</text>
<text x="3106" y="1535" font-size="22" fill="#a53a3a" text-anchor="start" dominant-baseline="central">/HOLD</text>
<text x="3388" y="1535" font-size="22" fill="#a53a3a" text-anchor="end" dominant-baseline="central">/WP</text>
<text x="3246" y="1370" font-size="22" fill="#a53a3a" text-anchor="end" dominant-baseline="central" transform="rotate(-90 3246 1370)">VDD_SDIO</text>
<text x="3246" y="1586" font-size="22" fill="#a53a3a" text-anchor="start" dominant-baseline="central" transform="rotate(-90 3246 1586)">GND</text>
<text x="3246" y="1715" font-size="27" fill="#a53a3a" text-anchor="middle" dominant-baseline="central" transform="rotate(90 3246 1715)" textLength="62" lengthAdjust="spacingAndGlyphs">GND</text>
<text x="3246" y="2031" font-size="27" fill="#a53a3a" text-anchor="middle" dominant-baseline="central" transform="rotate(90 3246 2031)" textLength="146" lengthAdjust="spacingAndGlyphs">VDD_SDIO</text>
<text x="3246" y="2547" font-size="27" fill="#a53a3a" text-anchor="middle" dominant-baseline="central" transform="rotate(90 3246 2547)" textLength="63" lengthAdjust="spacingAndGlyphs">GND</text>
<text x="2955" y="2250" font-size="30" fill="#a53a3a" text-anchor="middle" dominant-baseline="central" textLength="104" lengthAdjust="spacingAndGlyphs">GPIO16</text>
<text x="3108" y="2249" font-size="22" fill="#a53a3a" text-anchor="start" dominant-baseline="central">CS</text>
<text x="3388" y="2249" font-size="22" fill="#a53a3a" text-anchor="end" dominant-baseline="central">SI/SIO0</text>
<text x="2920" y="2310" font-size="30" fill="#a53a3a" text-anchor="middle" dominant-baseline="central" textLength="174" lengthAdjust="spacingAndGlyphs">PSRAM_CLK</text>
<text x="3108" y="2309" font-size="22" fill="#a53a3a" text-anchor="start" dominant-baseline="central">SCLK</text>
<text x="3388" y="2309" font-size="22" fill="#a53a3a" text-anchor="end" dominant-baseline="central">SO/SIO1</text>
<text x="2945" y="2368" font-size="30" fill="#a53a3a" text-anchor="middle" dominant-baseline="central" textLength="124" lengthAdjust="spacingAndGlyphs">SHD/SD2</text>
<text x="3108" y="2367" font-size="22" fill="#a53a3a" text-anchor="start" dominant-baseline="central">SIO3</text>
<text x="3388" y="2367" font-size="22" fill="#a53a3a" text-anchor="end" dominant-baseline="central">SIO2</text>
<text x="3246" y="2201" font-size="22" fill="#a53a3a" text-anchor="end" dominant-baseline="central" transform="rotate(-90 3246 2201)">VDD_SDIO</text>
<text x="3246" y="2419" font-size="22" fill="#a53a3a" text-anchor="start" dominant-baseline="central" transform="rotate(-90 3246 2419)">VSS</text></g>
</g></g></g>
</g>
<g id="three">
<defs><clipPath id="t3clip"><rect x="2655.5" y="1632" width="688" height="610.5"/></clipPath></defs>
<defs><filter id="t3blur" x="-2%" y="-2%" width="104%" height="104%"><feGaussianBlur stdDeviation="0.55"/></filter></defs>
<g clip-path="url(#t3clip)"><g filter="url(#t3blur)"><rect x="2640" y="1620" width="720" height="640" fill="#fff"/><g transform="translate(2650,1630) scale(0.19774)">
<g stroke-linecap="butt"><path d="M20 2049L156 1916M20 2122L205 1938M20 2198L349 1863M20 2359L536 1812M20 2444L669 1743M20 2533L718 1763M20 2626L845 1695M20 2722L968 1630M20 2823L1018 1649M20 2929L1136 1585M20 3040L1250 1524M60 3105L1299 1542M246 3105L1458 1499M340 3105L1564 1441M433 3105L1666 1384M526 3105L1715 1401M619 3105L1813 1346M713 3105L1908 1293M806 3105L1957 1308M899 3105L2049 1256M993 3105L2137 1206M1179 3105L2271 1171M1273 3105L2320 1185M1366 3105L2403 1138M1459 3105L2482 1091M1553 3105L2531 1104M1646 3105L2608 1059M1740 3105L2656 1072M1833 3105L2730 1028M1927 3105L2802 985M2114 3105L2920 955M2207 3105L2968 967M2301 3105L3035 926M2395 3105L3083 937M2488 3105L3148 897M2582 3105L3196 909M2676 3105L3258 869M2769 3105L3306 880M2863 3105L3366 842M3050 3105L3472 815M3144 3105L3515 860M3238 3105L3515 1209M3332 3105L3515 1662M3426 3105L3515 2276M20 3060L94 3105M20 2940L299 3105M20 2825L505 3105M20 2716L710 3105M20 2612L916 3105M20 2512L1121 3105M20 2417L1327 3105M20 2326L1533 3105M20 2239L1739 3105M20 2076L2151 3105M20 1999L2357 3105M20 1925L2564 3105M20 1854L2770 3105M20 1785L2976 3105M20 1719L3183 3105M20 1656L3390 3105M20 1595L3515 3071M20 1536L3515 2985M20 1423L3515 2824M293 1477L3515 2747M509 1508L3515 2672M824 1575L3515 2600M1053 1607L3515 2531M1286 1641L3515 2463M1631 1713L3515 2398M1878 1749L3515 2334M2130 1785L3515 2273M2777 1902L3515 2155M3050 1942L3515 2098M3330 1982L3515 2044" stroke="#c9d0dd" stroke-width="3.2" stroke-opacity="1.00" fill="none"/>
<path d="M20 1663L250 1460M20 1722L293 1477M20 1783L417 1420M20 1846L538 1365M20 1911L581 1380M20 1979L698 1326M156 1916L810 1274M205 1938L854 1289M349 1863L962 1238M536 1812L1111 1203M669 1743L1213 1154M718 1763L1311 1108M845 1695L1355 1121M968 1630L1450 1075M1018 1649L1542 1031M1136 1585L1586 1044M1250 1524L1675 1000M1299 1542L1762 958M1458 1499L1889 929M1564 1441L1970 889M1666 1384L2049 850M1715 1401L2092 861M1813 1346L2168 823M1908 1293L2243 786M1957 1308L2315 750M2049 1256L2357 760M2137 1206L2427 725M2271 1171L2538 700M2320 1185L2604 666M2403 1138L2668 633M2482 1091L2710 643M2531 1104L2772 610M2608 1059L2833 579M2656 1072L2892 548M2730 1028L2933 557M2802 985L2991 527M2920 955L3088 506M2968 967L3142 477M3035 926L3183 485M3083 937L3236 457M3148 897L3276 465M3196 909L3328 437M3258 869L3368 445M3306 880L3409 453M3366 842L3451 461M3472 815L3515 584M20 1370L293 1477M20 1318L509 1508M20 1269L824 1575M20 1220L1053 1607M20 1173L1286 1641M20 1128L1631 1713M209 1151L1878 1749M483 1204L2130 1785M887 1256L2777 1902M1185 1313L3050 1942M1399 1340L3330 1982M1617 1368L3515 1990M1941 1430L3515 1938M2171 1460L3515 1888M2405 1490L3515 1839M2758 1556L3515 1791M3006 1589L3515 1744" stroke="#c9d0dd" stroke-width="3.2" stroke-opacity="0.80" fill="none"/>
<path d="M20 1167L172 1052M20 1210L209 1065M20 1255L320 1021M20 1300L427 979M20 1348L464 991M20 1396L568 949M20 1446L670 908M20 1498L707 920M20 1551L805 880M250 1460L993 804M293 1477L1030 815M417 1420L1120 778M538 1365L1208 742M581 1380L1293 708M698 1326L1330 718M810 1274L1413 683M854 1289L1493 650M962 1238L1571 618M1111 1203L1684 595M1213 1154L1759 564M1311 1108L1831 534M1355 1121L1901 505M1450 1075L1970 476M1542 1031L2007 484M1586 1044L2073 456M1675 1000L2139 428M1762 958L2202 402M1889 929L2325 350M1970 889L2361 357M2049 850L2420 332M2092 861L2478 307M2168 823L2535 283M2243 786L2570 290M2315 750L2605 297M2357 760L2660 273M2427 725L2696 280M2538 700L2767 293M2604 666L2803 300M2668 633L2840 307M2710 643L2877 314M2772 610L2914 321M2833 579L2951 329M2892 548L2988 336M2933 557L3026 343M2991 527L3064 350M3088 506L3153 332M3142 477L3191 339M3183 485L3230 347M3236 457L3268 354M3276 465L3307 361M3328 437L3347 369M3368 445L3386 376M3409 453L3426 384M3451 461L3466 391M20 1084L209 1151M20 1041L483 1204M29 963L887 1256M67 936L1185 1313M104 910L1399 1340M210 907L1617 1368M245 882L1941 1430M279 857L2171 1460M313 832L2405 1490M559 874L2758 1556M738 894L3006 1589M1183 959L3515 1655M1373 981L3515 1612M1652 1028L3515 1570M1851 1051L3515 1528M2053 1074L3515 1488M2354 1124L3515 1449M2566 1148L3515 1411M2781 1173L3515 1374M3000 1198L3515 1337" stroke="#c9d0dd" stroke-width="3.2" stroke-opacity="0.60" fill="none"/>
<path d="M20 933L105 873M20 969L343 741M20 1007L615 580M20 1045L855 439M20 1085L980 378M172 1052L1087 360M209 1065L1161 334M320 1021L1233 310M427 979L1303 286M464 991L1372 262M568 949L1440 239M670 908L1506 217M707 920L1570 195M805 880L1600 201M993 804L1725 158M1030 815L1785 137M1120 778L1816 143M1208 742L1875 122M1293 708L1905 128M1330 718L1936 134M1413 683L1966 140M1493 650L1997 146M1571 618L2029 152M1684 595L2091 164M1759 564L2123 170M1831 534L2180 149M1901 505L2212 155M1970 476L2244 161M2007 484L2276 167M2073 456L2308 173M2139 428L2341 179M2202 402L2374 185M2325 350L2440 198M2361 357L2473 204M2420 332L2507 211M2478 307L2561 189M2535 283L2594 195M2570 290L2628 201M2605 297L2662 207M2660 273L2697 214M2696 280L2731 220M2767 293L2801 233M2803 300L2837 240M2840 307L2872 246M2877 314L2908 253M2914 321L2944 260M2951 329L2980 266M2988 336L3016 273M3026 343L3053 280M3064 350L3090 287M3153 332L3176 270M3191 339L3214 277M3230 347L3251 283M3268 354L3289 290M3307 361L3327 297M3347 369L3365 304M3386 376L3403 311M3426 384L3442 318M3466 391L3481 325M20 959L29 963M20 920L67 936M20 882L104 910M20 845L210 907M107 837L245 882M142 813L279 857M177 789L313 832M210 766L559 874M244 743L738 894M309 699L1183 959M340 677L1373 981M437 675L1652 1028M467 653L1851 1051M497 632L2053 1074M526 612L2354 1124M555 591L2566 1148M583 572L2781 1173M675 569L3000 1198M729 531L3515 1267M755 512L3515 1233M977 544L3515 1199M1136 559L3515 1167M1369 593L3515 1135M1535 609L3515 1104M1778 644L3515 1073M1950 660L3515 1043M2125 677L3515 1014M2568 732L3515 957M2753 750L3515 929M2940 769L3515 902M3131 787L3515 876M3420 828L3515 850" stroke="#c9d0dd" stroke-width="3.2" stroke-opacity="0.40" fill="none"/>
<path d="M20 796L785 289M20 829L989 179M20 863L1097 131M20 897L1162 111M105 873L1227 91M343 741L1290 72M615 580L1318 77M855 439L1380 58M980 378L1441 39M1087 360L1523 30M1161 334L1556 31M1233 310L1584 37M1303 286L1627 30M1372 262L1662 30M1440 239L1696 30M1506 217L1726 34M1570 195L1766 30M1600 201L1800 30M1725 158L1868 31M1785 137L1897 37M1816 143L1926 42M1875 122L1956 47M1905 128L1985 53M1936 134L2040 34M1966 140L2069 39M1997 146L2099 45M2029 152L2129 50M2091 164L2189 61M2123 170L2219 66M2180 149L2250 72M2212 155L2281 77M2244 161L2312 83M2276 167L2343 88M2308 173L2374 94M2341 179L2406 100M2374 185L2437 105M2440 198L2501 117M2473 204L2533 123M2507 211L2566 128M2561 189L2599 134M2594 195L2632 140M2628 201L2665 146M2662 207L2698 152M2697 214L2732 158M2731 220L2765 164M2801 233L2833 176M2837 240L2868 183M2872 246L2902 189M2908 253L2951 167M2944 260L2986 173M2980 266L3021 179M3016 273L3056 186M3053 280L3091 192M3090 287L3127 198M3176 270L3198 211M3214 277L3235 217M3251 283L3271 224M3289 290L3308 230M3327 297L3345 237M3365 304L3382 243M3403 311L3419 250M3442 318L3457 256M3481 325L3495 263M20 809L107 837M20 774L142 813M20 740L177 789M20 707L210 766M49 684L244 743M116 641L309 699M148 620L340 677M180 600L437 675M274 598L467 653M304 578L497 632M335 558L526 612M364 539L555 591M393 520L583 572M422 501L675 569M478 464L729 531M505 446L755 512M532 429L977 544M558 411L1136 559M585 394L1369 593M610 378L1535 609M695 376L1778 644M720 359L1950 660M744 343L2125 677M792 311L2568 732M815 296L2753 750M838 280L2940 769M860 265L3131 787M941 264L3420 828M962 249L3515 824M983 234L3515 799M1005 220L3515 775M1025 205L3515 751M1123 190L3515 704M1143 176L3515 681M1220 174L3515 659M1238 161L3515 637M1315 159L3515 615M1333 146L3515 594M1408 144L3515 573M1484 143L3515 552M1619 153L3515 532M1956 187L3515 493M2098 198L3515 474M2373 235L3515 455M2803 300L3515 437M3263 371L3515 418" stroke="#c9d0dd" stroke-width="3.2" stroke-opacity="0.20" fill="none"/>
<path d="M20 1125L480 782M20 1606L1251 538M20 2277L1890 335M153 3105L2362 249M1086 3105L2731 286M2020 3105L3102 357M2957 3105L3500 434M20 2156L1945 3105M20 1479L3515 2903M62 1014L3515 2213M411 761L3515 1699M2056 912L3515 1302" stroke="#9ab3e2" stroke-width="5.2" stroke-opacity="1.00" fill="none"/>
<path d="M480 782L1296 173M1251 538L1755 100M1890 335L2060 158M2362 249L2407 192M2731 286L2749 256M3102 357L3115 325M3500 434L3507 399M20 1000L62 1014M343 741L411 761M638 533L2056 912M949 371L3515 985M2671 544L3515 727" stroke="#9ab3e2" stroke-width="5.2" stroke-opacity="0.80" fill="none"/>
<path d="M1296 173L1402 94M1755 100L1784 74M2060 158L2111 105M2407 192L2428 164M2749 256L2766 227M3115 325L3127 294M3507 399L3514 365M211 701L343 741M574 516L638 533M828 341L949 371M1103 204L2671 544M1517 117L3515 513" stroke="#9ab3e2" stroke-width="5.2" stroke-opacity="0.60" fill="none"/>
<path d="M1402 94L1468 45M1784 74L1835 30M2111 105L2135 80M2428 164L2469 111M2766 227L2799 170M3127 294L3151 233M3514 365L3515 359M146 681L211 701M450 482L574 516M768 327L828 341M989 179L1103 204M1290 72L1517 117" stroke="#9ab3e2" stroke-width="5.2" stroke-opacity="0.40" fill="none"/>
<path d="M20 764L1090 64M1468 45L1488 30M2135 80L2182 31M2469 111L2489 86M2799 170L2815 143M3151 233L3162 204M20 643L146 681M389 466L450 482M651 299L768 327M877 155L989 179M1181 50L1290 72M1861 30L3515 331" stroke="#9ab3e2" stroke-width="5.2" stroke-opacity="0.20" fill="none"/></g>
<polygon points="351,47 611,113 517,358 183,227" fill="#c9c9c9" stroke="#4a4a4a" stroke-width="4" stroke-linejoin="round"/>
<polygon points="183,227 517,358 480,464 262,364" fill="#c6c6c6" stroke="#4a4a4a" stroke-width="4" stroke-linejoin="round"/>
<text x="419" y="173" font-size="66" fill="#222" text-anchor="middle" dominant-baseline="central" transform="rotate(21 419 173)">Top</text>
<text x="0" y="0" font-size="44" font-weight="bold" fill="#666" text-anchor="middle" dominant-baseline="central" transform="translate(359 374) rotate(25) skewX(-25)" textLength="165" lengthAdjust="spacingAndGlyphs">Front</text>
<defs><linearGradient id="brd" gradientUnits="userSpaceOnUse" x1="700" y1="2700" x2="3000" y2="600"><stop offset="0" stop-color="#48be7c"/><stop offset="0.45" stop-color="#3eb974"/><stop offset="1" stop-color="#36b06a"/></linearGradient><linearGradient id="shd" gradientUnits="userSpaceOnUse" x1="1700" y1="1400" x2="2700" y2="1500"><stop offset="0" stop-color="#c9c9c9"/><stop offset="1" stop-color="#b5b5b5"/></linearGradient><radialGradient id="mpc" gradientUnits="userSpaceOnUse" cx="1650" cy="1600" r="520"><stop offset="0" stop-color="#9a9a9a"/><stop offset="0.5" stop-color="#5a5a5a"/><stop offset="1" stop-color="#444444"/></radialGradient></defs>
<polygon points="2107,305 3258,545 2495,3107 919,3107 62,2622" fill="url(#brd)"/>
<circle cx="2250" cy="428" r="7" fill="#d9b45a"/>
<circle cx="2240" cy="458" r="7" fill="#d9b45a"/>
<circle cx="2148" cy="438" r="7" fill="#d9b45a"/>
<circle cx="2162" cy="418" r="7" fill="#d9b45a"/>
<polygon points="2144,440 2168,418 2186,390 2226,390 2236,416 2250,428 2240,464 2190,452" fill="#dedede"/>
<polygon points="2186,390 2226,390 2236,416 2240,464 2210,457 2214,422 2178,416" fill="#cfcfcf"/>
<circle cx="2445" cy="468" r="7" fill="#d9b45a"/>
<circle cx="2435" cy="498" r="7" fill="#d9b45a"/>
<circle cx="2342" cy="478" r="7" fill="#d9b45a"/>
<circle cx="2356" cy="458" r="7" fill="#d9b45a"/>
<polygon points="2338,480 2362,458 2381,429 2421,429 2431,456 2445,468 2435,505 2385,492" fill="#dedede"/>
<polygon points="2381,429 2421,429 2431,456 2435,505 2405,497 2409,462 2372,456" fill="#cfcfcf"/>
<circle cx="2641" cy="508" r="7" fill="#d9b45a"/>
<circle cx="2631" cy="539" r="7" fill="#d9b45a"/>
<circle cx="2536" cy="518" r="7" fill="#d9b45a"/>
<circle cx="2551" cy="498" r="7" fill="#d9b45a"/>
<polygon points="2532,520 2557,498 2575,469 2616,469 2627,496 2641,508 2631,545 2579,533" fill="#dedede"/>
<polygon points="2575,469 2616,469 2627,496 2631,545 2600,538 2604,502 2567,496" fill="#cfcfcf"/>
<circle cx="2842" cy="553" r="7" fill="#d9b45a"/>
<circle cx="2832" cy="584" r="7" fill="#d9b45a"/>
<circle cx="2735" cy="563" r="7" fill="#d9b45a"/>
<circle cx="2750" cy="542" r="7" fill="#d9b45a"/>
<polygon points="2731,565 2756,542 2775,513 2817,513 2827,540 2842,553 2832,591 2779,578" fill="#dedede"/>
<polygon points="2775,513 2817,513 2827,540 2832,591 2800,583 2804,547 2767,540" fill="#cfcfcf"/>
<circle cx="3060" cy="598" r="7" fill="#d9b45a"/>
<circle cx="3049" cy="630" r="7" fill="#d9b45a"/>
<circle cx="2951" cy="609" r="7" fill="#d9b45a"/>
<circle cx="2966" cy="587" r="7" fill="#d9b45a"/>
<polygon points="2947,611 2973,587 2992,557 3034,557 3045,585 3060,598 3049,636 2996,623" fill="#dedede"/>
<polygon points="2992,557 3034,557 3045,585 3049,636 3017,629 3022,591 2983,585" fill="#cfcfcf"/>
<circle cx="2186" cy="518" r="7" fill="#d9b45a"/>
<circle cx="2176" cy="549" r="7" fill="#d9b45a"/>
<circle cx="2081" cy="528" r="7" fill="#d9b45a"/>
<circle cx="2095" cy="508" r="7" fill="#d9b45a"/>
<polygon points="2077,530 2102,508 2120,479 2162,479 2172,506 2186,518 2176,555 2124,543" fill="#dedede"/>
<polygon points="2120,479 2162,479 2172,506 2176,555 2145,548 2149,512 2112,506" fill="#cfcfcf"/>
<circle cx="2382" cy="563" r="7" fill="#d9b45a"/>
<circle cx="2372" cy="594" r="7" fill="#d9b45a"/>
<circle cx="2275" cy="573" r="7" fill="#d9b45a"/>
<circle cx="2290" cy="552" r="7" fill="#d9b45a"/>
<polygon points="2271,576 2296,552 2315,523 2357,523 2368,550 2382,563 2372,601 2319,588" fill="#dedede"/>
<polygon points="2315,523 2357,523 2368,550 2372,601 2340,593 2344,557 2307,550" fill="#cfcfcf"/>
<circle cx="2583" cy="608" r="7" fill="#d9b45a"/>
<circle cx="2572" cy="640" r="7" fill="#d9b45a"/>
<circle cx="2474" cy="619" r="7" fill="#d9b45a"/>
<circle cx="2489" cy="597" r="7" fill="#d9b45a"/>
<polygon points="2470,621 2496,597 2515,567 2557,567 2568,595 2583,608 2572,646 2519,633" fill="#dedede"/>
<polygon points="2515,567 2557,567 2568,595 2572,646 2540,639 2545,601 2506,595" fill="#cfcfcf"/>
<circle cx="2794" cy="658" r="8" fill="#d9b45a"/>
<circle cx="2783" cy="690" r="8" fill="#d9b45a"/>
<circle cx="2683" cy="669" r="8" fill="#d9b45a"/>
<circle cx="2698" cy="647" r="8" fill="#d9b45a"/>
<polygon points="2679,671 2705,647 2725,617 2768,617 2779,645 2794,658 2783,697 2729,684" fill="#dedede"/>
<polygon points="2725,617 2768,617 2779,645 2783,697 2751,689 2755,651 2716,645" fill="#cfcfcf"/>
<circle cx="3015" cy="706" r="8" fill="#d9b45a"/>
<circle cx="3004" cy="739" r="8" fill="#d9b45a"/>
<circle cx="2902" cy="717" r="8" fill="#d9b45a"/>
<circle cx="2918" cy="695" r="8" fill="#d9b45a"/>
<polygon points="2898,719 2924,695 2944,664 2988,664 2999,693 3015,706 3004,746 2949,732" fill="#dedede"/>
<polygon points="2944,664 2988,664 2999,693 3004,746 2971,738 2975,699 2935,693" fill="#cfcfcf"/>
<circle cx="2103" cy="618" r="8" fill="#d9b45a"/>
<circle cx="2093" cy="650" r="8" fill="#d9b45a"/>
<circle cx="1994" cy="629" r="8" fill="#d9b45a"/>
<circle cx="2009" cy="607" r="8" fill="#d9b45a"/>
<polygon points="1990,631 2015,607 2035,577 2078,577 2088,605 2103,618 2093,656 2039,644" fill="#dedede"/>
<polygon points="2035,577 2078,577 2088,605 2093,656 2060,649 2065,611 2026,605" fill="#cfcfcf"/>
<circle cx="2309" cy="666" r="8" fill="#d9b45a"/>
<circle cx="2298" cy="699" r="8" fill="#d9b45a"/>
<circle cx="2198" cy="677" r="8" fill="#d9b45a"/>
<circle cx="2213" cy="655" r="8" fill="#d9b45a"/>
<polygon points="2194,679 2220,655 2239,624 2283,624 2294,653 2309,666 2298,705 2244,692" fill="#dedede"/>
<polygon points="2239,624 2283,624 2294,653 2298,705 2266,697 2270,659 2231,653" fill="#cfcfcf"/>
<circle cx="2515" cy="718" r="8" fill="#d9b45a"/>
<circle cx="2504" cy="751" r="8" fill="#d9b45a"/>
<circle cx="2402" cy="729" r="8" fill="#d9b45a"/>
<circle cx="2418" cy="707" r="8" fill="#d9b45a"/>
<polygon points="2398,731 2424,707 2444,676 2489,676 2500,704 2515,718 2504,758 2449,744" fill="#dedede"/>
<polygon points="2444,676 2489,676 2500,704 2504,758 2471,750 2475,711 2435,704" fill="#cfcfcf"/>
<circle cx="2736" cy="770" r="8" fill="#d9b45a"/>
<circle cx="2725" cy="804" r="8" fill="#d9b45a"/>
<circle cx="2621" cy="781" r="8" fill="#d9b45a"/>
<circle cx="2637" cy="758" r="8" fill="#d9b45a"/>
<polygon points="2617,783 2644,758 2664,727 2709,727 2720,756 2736,770 2725,810 2668,797" fill="#dedede"/>
<polygon points="2664,727 2709,727 2720,756 2725,810 2691,802 2696,763 2655,756" fill="#cfcfcf"/>
<circle cx="2972" cy="823" r="8" fill="#d9b45a"/>
<circle cx="2961" cy="857" r="8" fill="#d9b45a"/>
<circle cx="2855" cy="834" r="8" fill="#d9b45a"/>
<circle cx="2871" cy="811" r="8" fill="#d9b45a"/>
<polygon points="2850,836 2878,811 2899,779 2945,779 2956,809 2972,823 2961,864 2903,850" fill="#dedede"/>
<polygon points="2899,779 2945,779 2956,809 2961,864 2926,856 2931,816 2889,809" fill="#cfcfcf"/>
<circle cx="2020" cy="728" r="8" fill="#d9b45a"/>
<circle cx="2009" cy="761" r="8" fill="#d9b45a"/>
<circle cx="1907" cy="739" r="8" fill="#d9b45a"/>
<circle cx="1922" cy="717" r="8" fill="#d9b45a"/>
<polygon points="1902,741 1929,717 1949,685 1994,685 2005,714 2020,728 2009,768 1954,754" fill="#dedede"/>
<polygon points="1949,685 1994,685 2005,714 2009,768 1976,760 1980,721 1940,714" fill="#cfcfcf"/>
<circle cx="2231" cy="780" r="8" fill="#d9b45a"/>
<circle cx="2220" cy="814" r="8" fill="#d9b45a"/>
<circle cx="2116" cy="791" r="8" fill="#d9b45a"/>
<circle cx="2132" cy="768" r="8" fill="#d9b45a"/>
<polygon points="2111,793 2138,768 2159,737 2204,737 2215,766 2231,780 2220,820 2163,807" fill="#dedede"/>
<polygon points="2159,737 2204,737 2215,766 2220,820 2186,813 2191,773 2150,766" fill="#cfcfcf"/>
<circle cx="2447" cy="833" r="8" fill="#d9b45a"/>
<circle cx="2436" cy="867" r="8" fill="#d9b45a"/>
<circle cx="2330" cy="844" r="8" fill="#d9b45a"/>
<circle cx="2346" cy="821" r="8" fill="#d9b45a"/>
<polygon points="2325,847 2353,821 2374,789 2420,789 2431,819 2447,833 2436,874 2378,860" fill="#dedede"/>
<polygon points="2374,789 2420,789 2431,819 2436,874 2401,866 2406,826 2364,819" fill="#cfcfcf"/>
<circle cx="2683" cy="893" r="8" fill="#d9b45a"/>
<circle cx="2672" cy="928" r="8" fill="#d9b45a"/>
<circle cx="2564" cy="904" r="8" fill="#d9b45a"/>
<circle cx="2580" cy="881" r="8" fill="#d9b45a"/>
<polygon points="2559,907 2587,881 2608,848 2655,848 2667,879 2683,893 2672,935 2613,921" fill="#dedede"/>
<polygon points="2608,848 2655,848 2667,879 2672,935 2636,927 2641,886 2599,879" fill="#cfcfcf"/>
<circle cx="2924" cy="948" r="8" fill="#d9b45a"/>
<circle cx="2913" cy="983" r="8" fill="#d9b45a"/>
<circle cx="2803" cy="960" r="8" fill="#d9b45a"/>
<circle cx="2819" cy="936" r="8" fill="#d9b45a"/>
<polygon points="2798,962 2826,936 2848,902 2896,902 2908,933 2924,948 2913,991 2853,976" fill="#dedede"/>
<polygon points="2848,902 2896,902 2908,933 2913,991 2877,982 2881,940 2838,933" fill="#cfcfcf"/>
<circle cx="1928" cy="848" r="8" fill="#d9b45a"/>
<circle cx="1916" cy="882" r="8" fill="#d9b45a"/>
<circle cx="1810" cy="859" r="8" fill="#d9b45a"/>
<circle cx="1826" cy="836" r="8" fill="#d9b45a"/>
<polygon points="1805,862 1833,836 1854,804 1900,804 1911,834 1928,848 1916,889 1858,875" fill="#dedede"/>
<polygon points="1854,804 1900,804 1911,834 1916,889 1881,881 1886,841 1844,834" fill="#cfcfcf"/>
<circle cx="2149" cy="903" r="8" fill="#d9b45a"/>
<circle cx="2137" cy="938" r="8" fill="#d9b45a"/>
<circle cx="2028" cy="914" r="8" fill="#d9b45a"/>
<circle cx="2045" cy="891" r="8" fill="#d9b45a"/>
<polygon points="2024,917 2052,891 2073,858 2120,858 2132,888 2149,903 2137,945 2078,931" fill="#dedede"/>
<polygon points="2073,858 2120,858 2132,888 2137,945 2102,937 2106,896 2064,888" fill="#cfcfcf"/>
<circle cx="2375" cy="963" r="8" fill="#d9b45a"/>
<circle cx="2363" cy="999" r="8" fill="#d9b45a"/>
<circle cx="2252" cy="975" r="8" fill="#d9b45a"/>
<circle cx="2269" cy="951" r="8" fill="#d9b45a"/>
<polygon points="2247,977 2276,951 2298,917 2346,917 2358,948 2375,963 2363,1006 2303,991" fill="#dedede"/>
<polygon points="2298,917 2346,917 2358,948 2363,1006 2327,997 2332,955 2288,948" fill="#cfcfcf"/>
<circle cx="2616" cy="1028" r="9" fill="#d9b45a"/>
<circle cx="2604" cy="1064" r="9" fill="#d9b45a"/>
<circle cx="2491" cy="1040" r="9" fill="#d9b45a"/>
<circle cx="2508" cy="1015" r="9" fill="#d9b45a"/>
<polygon points="2486,1042 2515,1015 2538,981 2587,981 2599,1013 2616,1028 2604,1072 2542,1057" fill="#dedede"/>
<polygon points="2538,981 2587,981 2599,1013 2604,1072 2567,1063 2572,1020 2528,1013" fill="#cfcfcf"/>
<circle cx="2867" cy="1092" r="9" fill="#d9b45a"/>
<circle cx="2855" cy="1130" r="9" fill="#d9b45a"/>
<circle cx="2740" cy="1105" r="9" fill="#d9b45a"/>
<circle cx="2757" cy="1080" r="9" fill="#d9b45a"/>
<polygon points="2735,1108 2765,1080 2787,1045 2837,1045 2850,1078 2867,1092 2855,1138 2792,1122" fill="#dedede"/>
<polygon points="2787,1045 2837,1045 2850,1078 2855,1138 2817,1129 2822,1085 2777,1078" fill="#cfcfcf"/>
<polygon points="1216,1464 2584,1972 2584,2006 1218,1499" fill="#2a2a2a"/>
<polygon points="1651,939 2834,1275 2584,1972 1216,1464" fill="url(#mpc)"/>
<polyline points="1878,1030 1661,976 1615,1035 1751,1087 1702,1156 1553,1123 1491,1185 1638,1229 1581,1316 1416,1267 1274,1435 1524,1507" fill="none" stroke="#bdbdbd" stroke-width="24" stroke-linejoin="miter" stroke-miterlimit="8"/>
<polyline points="1375,1350 1591,1422" fill="none" stroke="#bdbdbd" stroke-width="25"/>
<polygon points="2735,1347 2789,1361 2781,1393 2727,1379" fill="#b4b4b4"/>
<polygon points="2709,1427 2763,1441 2755,1473 2701,1459" fill="#b4b4b4"/>
<polygon points="2683,1509 2737,1523 2729,1555 2675,1541" fill="#b4b4b4"/>
<polygon points="2655,1589 2709,1603 2701,1635 2647,1621" fill="#b4b4b4"/>
<polygon points="2623,1671 2677,1685 2669,1717 2615,1703" fill="#b4b4b4"/>
<polygon points="2589,1755 2643,1769 2635,1801 2581,1787" fill="#b4b4b4"/>
<polygon points="1991,1663 2053,1683 2039,1725 1977,1703" fill="#bcbcbc"/>
<polygon points="2111,1706 2173,1726 2159,1768 2097,1746" fill="#bcbcbc"/>
<polygon points="2226,1746 2288,1766 2274,1808 2212,1786" fill="#bcbcbc"/>
<polygon points="2351,1791 2413,1811 2399,1853 2337,1831" fill="#bcbcbc"/>
<polygon points="1771,1581 1833,1601 1819,1643 1757,1621" fill="#bcbcbc"/>
<polygon points="1653,1551 1715,1571 1701,1613 1639,1591" fill="#bcbcbc"/>
<polygon points="2722,1552 2768,1564 2756,1608 2710,1596" fill="#d9b45a"/>
<polygon points="2692,1632 2738,1644 2726,1688 2680,1676" fill="#d9b45a"/>
<polygon points="2662,1717 2708,1729 2696,1773 2650,1761" fill="#d9b45a"/>
<polygon points="2632,1807 2678,1819 2666,1863 2620,1851" fill="#d9b45a"/>
<polygon points="2759,1469 2805,1481 2793,1525 2747,1513" fill="#d9b45a"/>
<polygon points="2430,1932 2508,1956 2494,1998 2416,1972" fill="#d9b45a"/>
<polygon points="2310,1887 2388,1911 2374,1953 2296,1927" fill="#d9b45a"/>
<polygon points="2180,1832 2258,1856 2244,1898 2166,1872" fill="#d9b45a"/>
<polygon points="1950,1752 2028,1776 2014,1818 1936,1792" fill="#d9b45a"/>
<polygon points="1810,1712 1888,1736 1874,1778 1796,1752" fill="#d9b45a"/>
<polygon points="1730,1672 1808,1696 1794,1738 1716,1712" fill="#d9b45a"/>
<polygon points="1607,1639 1685,1663 1671,1705 1593,1679" fill="#d9b45a"/>
<polygon points="1671,1419 2566,1784 2559,1817 1679,1527" fill="#cdcdcd" stroke="#cdcdcd" stroke-width="14" stroke-linejoin="round"/>
<polygon points="1961,1014 2759,1241 2566,1781 1676,1419" fill="url(#shd)" stroke="url(#shd)" stroke-width="16" stroke-linejoin="round"/>
<g transform="translate(2503 1601) rotate(-70)"><path d="M-22 8 a14 14 0 1 1 6 -24 a16 16 0 0 1 30 6 a11 11 0 0 1 -4 21 z" fill="none" stroke="#111" stroke-width="8"/><text x="30" y="-6" font-size="20" fill="#444" textLength="62" lengthAdjust="spacingAndGlyphs">LCEDA</text><text x="30" y="16" font-size="20" fill="#444" textLength="78" lengthAdjust="spacingAndGlyphs">EasyEDA</text></g>
<polygon points="800,1852 925,1700 1005,1720 885,1877" fill="#d9b45a"/>
<polygon points="845,1842 940,1720 1010,1722 905,1857" fill="#c4c4c4"/>
<polygon points="1260,1792 1415,1832 1385,1874 1245,1834" fill="#d9b45a"/>
<polygon points="1170,1910 1337,1944 1305,1990 1158,1949" fill="#d9b45a"/>
<polygon points="1085,2022 1255,2054 1225,2110 1073,2069" fill="#d9b45a"/>
<polygon points="850,1917 1060,2012 1060,2050 848,1954" fill="#5a5a5a"/>
<polygon points="1280,1702 1287,1742 1060,2050 1060,2012" fill="#626262"/>
<polygon points="1090,1627 1280,1702 1060,2012 850,1917" fill="#747474" stroke="#747474" stroke-width="10" stroke-linejoin="round"/>
<text x="1055" y="1802" font-size="26" fill="#8c8c8c" text-anchor="middle" dominant-baseline="central" transform="rotate(-56 1055 1802)" textLength="150" lengthAdjust="spacingAndGlyphs">SOT-223-4P</text>
<polygon points="1245,1749 1282,1735 1378,1820 1345,1844" fill="#cbcbcb" stroke="#cbcbcb" stroke-width="8" stroke-linejoin="round"/>
<polygon points="1160,1862 1197,1848 1292,1935 1260,1954" fill="#cbcbcb" stroke="#cbcbcb" stroke-width="8" stroke-linejoin="round"/>
<polygon points="1070,1977 1107,1964 1207,2050 1175,2074" fill="#cbcbcb" stroke="#cbcbcb" stroke-width="8" stroke-linejoin="round"/>
<polygon points="1205,1617 1250,1577 1365,1642 1340,1677" fill="#d9b45a"/>
<polygon points="1232,1594 1272,1580 1312,1614 1282,1650 1240,1634" fill="#5a5a5a"/>
<polygon points="1288,1620 1318,1604 1336,1640 1302,1658" fill="#cfcfcf"/>
<polygon points="1222,1600 1240,1584 1252,1602 1234,1620" fill="#cfcfcf"/>
<polygon points="985,2142 1030,2100 1170,2164 1140,2220" fill="#d9b45a"/>
<polygon points="1015,2122 1048,2095 1112,2132 1086,2170" fill="#b39d8c"/>
<polygon points="1086,2142 1118,2124 1135,2162 1100,2182" fill="#d2d2d2"/>
<polygon points="1000,2130 1030,2102 1042,2120 1012,2148" fill="#d2d2d2"/>
<polygon points="1240,2162 1290,2087 1372,2122 1325,2204" fill="#d9b45a"/>
<polygon points="1125,2327 1180,2242 1270,2282 1215,2369" fill="#d9b45a"/>
<polygon points="1328,2322 1370,2277 1527,2347 1500,2404" fill="#d9b45a"/>
<polygon points="1375,2294 1405,2275 1468,2307 1445,2364 1385,2338" fill="#5a5a5a"/>
<polygon points="1440,2317 1472,2300 1490,2342 1455,2364" fill="#cfcfcf"/>
<polygon points="1358,2304 1385,2277 1398,2297 1372,2332" fill="#cfcfcf"/>
<polygon points="1643,1871 1711,1841 2733,2135 2723,2231 2656,2384 2611,2384 1666,2004" fill="#5c5c5c" stroke="#5c5c5c" stroke-width="14" stroke-linejoin="round"/>
<polygon points="1651,1869 1711,1844 2729,2139 2701,2189" fill="#646464"/>
<polyline points="1821,1919 1806,2069" fill="none" stroke="#505050" stroke-width="8"/>
<polyline points="1996,1969 1981,2119" fill="none" stroke="#505050" stroke-width="8"/>
<polyline points="2166,2024 2151,2174" fill="none" stroke="#505050" stroke-width="8"/>
<polyline points="2341,2089 2326,2239" fill="none" stroke="#505050" stroke-width="8"/>
<polyline points="2521,2154 2506,2304" fill="none" stroke="#505050" stroke-width="8"/>
<polygon points="1696,1609 1756,1584 1781,1879 1721,1887" fill="#cacaca" stroke="#cacaca" stroke-width="8" stroke-linejoin="round"/>
<polygon points="1879,1631 1946,1639 1943,1939 1881,1931" fill="#cacaca" stroke="#cacaca" stroke-width="8" stroke-linejoin="round"/>
<polygon points="2069,1709 2133,1699 2113,2001 2047,1991" fill="#cacaca" stroke="#cacaca" stroke-width="8" stroke-linejoin="round"/>
<polygon points="2261,1769 2331,1771 2288,2071 2221,2056" fill="#cacaca" stroke="#cacaca" stroke-width="8" stroke-linejoin="round"/>
<polygon points="2481,1839 2548,1851 2463,2146 2401,2131" fill="#cacaca" stroke="#cacaca" stroke-width="8" stroke-linejoin="round"/>
<polygon points="2701,1914 2763,1926 2643,2216 2586,2196" fill="#cacaca" stroke="#cacaca" stroke-width="8" stroke-linejoin="round"/>
<polygon points="780,2270 830,2280 1290,2492 1380,2562 1402,2604 1228,2872 1218,3022 1122,3112 880,3112 360,2787" fill="#c5c5c5" stroke="#c5c5c5" stroke-width="10" stroke-linejoin="round"/>
<polygon points="1290,2492 1380,2562 1402,2604 1228,2872 1218,3022 1122,3112 1000,3112 1190,2592" fill="#c1c1c1"/>
<polygon points="946,2320 962,2327 942,2370 926,2362" fill="#d9b45a"/>
<polygon points="984,2338 1000,2345 980,2388 964,2380" fill="#d9b45a"/>
<polygon points="1022,2355 1038,2362 1018,2405 1002,2397" fill="#d9b45a"/>
<polygon points="1060,2372 1076,2379 1056,2422 1040,2414" fill="#d9b45a"/>
<polygon points="1098,2390 1114,2397 1094,2440 1078,2432" fill="#d9b45a"/>
<polygon points="1136,2407 1152,2414 1132,2457 1116,2449" fill="#d9b45a"/>
<polygon points="1174,2424 1190,2431 1170,2474 1154,2466" fill="#d9b45a"/>
<polygon points="1212,2441 1228,2448 1208,2491 1192,2483" fill="#d9b45a"/>
<polygon points="1250,2459 1266,2466 1246,2509 1230,2501" fill="#d9b45a"/>
<polygon points="1288,2476 1304,2483 1284,2526 1268,2518" fill="#d9b45a"/>
<polygon points="1326,2493 1342,2500 1322,2543 1306,2535" fill="#d9b45a"/>
<polygon points="1364,2510 1380,2517 1360,2560 1344,2552" fill="#d9b45a"/>
<polygon points="800,2304 840,2300 912,2357 915,2418 880,2408 790,2364" fill="#4c4c4c"/>
<polygon points="1078,2487 1200,2532 1232,2500 1212,2554 1090,2514" fill="#4c4c4c"/>
<ellipse cx="1385" cy="2662" rx="38" ry="68" fill="none" stroke="#d9b45a" stroke-width="14" transform="rotate(25 1385 2662)"/>
<ellipse cx="1195" cy="2994" rx="38" ry="68" fill="none" stroke="#d9b45a" stroke-width="14" transform="rotate(28 1195 2994)"/>
<polygon points="1290,2492 1380,2562 1350,2642 1300,2722 1200,2662" fill="#c2c2c2"/>
<polygon points="1150,2842 1228,2872 1218,2982 1150,3042" fill="#c2c2c2"/>
</g></g></g>
</g>
</svg>
</body>
</html>
